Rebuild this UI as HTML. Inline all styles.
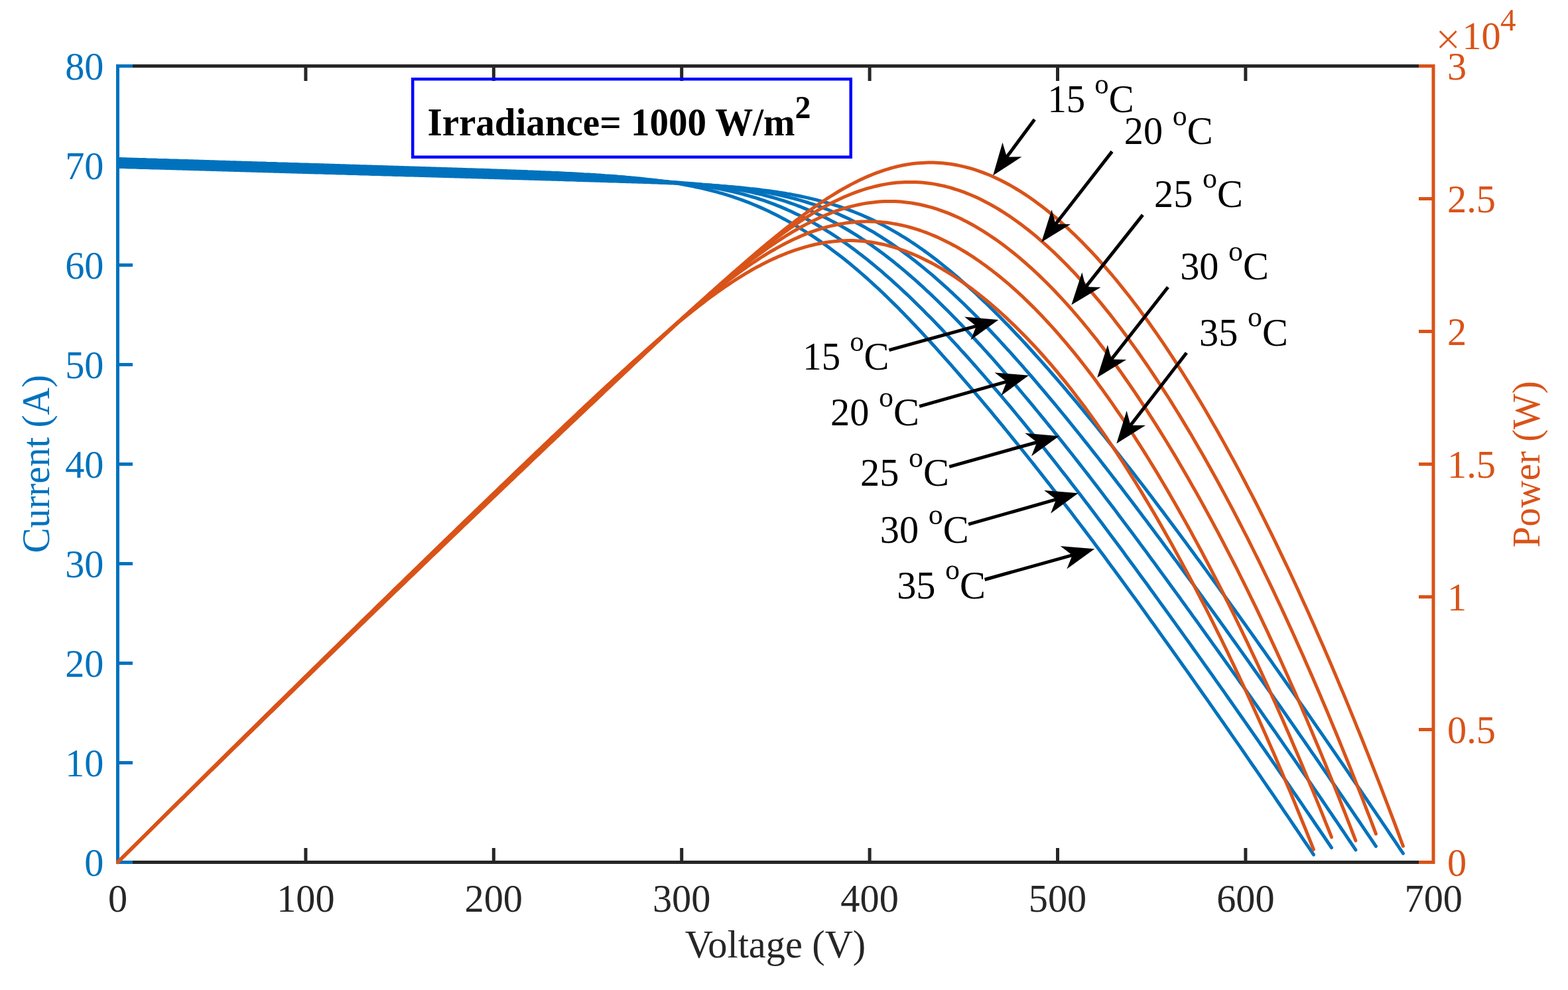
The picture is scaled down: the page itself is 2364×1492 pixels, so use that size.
<!DOCTYPE html><html><head><meta charset="utf-8"><style>html,body{margin:0;padding:0;background:#fff;}svg{display:block;}text{font-family:"Liberation Serif","Times New Roman",serif;}</style></head><body>
<svg width="2364" height="1492" viewBox="0 0 2364 1492">
<rect width="2364" height="1492" fill="#fff"/>
<g stroke-width="5" fill="none" stroke-linecap="butt">
<line x1="177.5" y1="99.5" x2="2161.0" y2="99.5" stroke="#262626"/>
<line x1="177.5" y1="1299.5" x2="2161.0" y2="1299.5" stroke="#262626"/>
</g>
<g stroke="#262626" stroke-width="5">
<line x1="460.9" y1="1299.5" x2="460.9" y2="1278"/>
<line x1="460.9" y1="99.5" x2="460.9" y2="122"/>
<line x1="744.3" y1="1299.5" x2="744.3" y2="1278"/>
<line x1="744.3" y1="99.5" x2="744.3" y2="122"/>
<line x1="1027.7" y1="1299.5" x2="1027.7" y2="1278"/>
<line x1="1027.7" y1="99.5" x2="1027.7" y2="122"/>
<line x1="1311.1" y1="1299.5" x2="1311.1" y2="1278"/>
<line x1="1311.1" y1="99.5" x2="1311.1" y2="122"/>
<line x1="1594.5" y1="1299.5" x2="1594.5" y2="1278"/>
<line x1="1594.5" y1="99.5" x2="1594.5" y2="122"/>
<line x1="1877.9" y1="1299.5" x2="1877.9" y2="1278"/>
<line x1="1877.9" y1="99.5" x2="1877.9" y2="122"/>
</g>
<g stroke="#0072BD" stroke-width="5" stroke-linecap="square">
<line x1="177.5" y1="99.5" x2="177.5" y2="1299.5"/>
<line x1="177.5" y1="1299.5" x2="200" y2="1299.5" stroke-linecap="butt"/>
<line x1="177.5" y1="1149.5" x2="200" y2="1149.5" stroke-linecap="butt"/>
<line x1="177.5" y1="999.5" x2="200" y2="999.5" stroke-linecap="butt"/>
<line x1="177.5" y1="849.5" x2="200" y2="849.5" stroke-linecap="butt"/>
<line x1="177.5" y1="699.5" x2="200" y2="699.5" stroke-linecap="butt"/>
<line x1="177.5" y1="549.5" x2="200" y2="549.5" stroke-linecap="butt"/>
<line x1="177.5" y1="399.5" x2="200" y2="399.5" stroke-linecap="butt"/>
<line x1="177.5" y1="249.5" x2="200" y2="249.5" stroke-linecap="butt"/>
<line x1="177.5" y1="99.5" x2="200" y2="99.5" stroke-linecap="butt"/>
</g>
<g stroke="#D95319" stroke-width="5" stroke-linecap="square">
<line x1="2161.0" y1="99.5" x2="2161.0" y2="1299.5"/>
<line x1="2161.0" y1="1299.5" x2="2139" y2="1299.5" stroke-linecap="butt"/>
<line x1="2161.0" y1="1099.5" x2="2139" y2="1099.5" stroke-linecap="butt"/>
<line x1="2161.0" y1="899.5" x2="2139" y2="899.5" stroke-linecap="butt"/>
<line x1="2161.0" y1="699.5" x2="2139" y2="699.5" stroke-linecap="butt"/>
<line x1="2161.0" y1="499.5" x2="2139" y2="499.5" stroke-linecap="butt"/>
<line x1="2161.0" y1="299.5" x2="2139" y2="299.5" stroke-linecap="butt"/>
<line x1="2161.0" y1="99.5" x2="2139" y2="99.5" stroke-linecap="butt"/>
</g>
<g fill="none" stroke-width="5" stroke-linejoin="round" stroke-linecap="round">
<polyline stroke="#0072BD" points="177.5,239.4 181.5,239.5 185.5,239.7 189.5,239.8 193.6,239.9 197.6,240.0 201.6,240.2 205.6,240.3 209.6,240.4 213.6,240.5 217.7,240.6 221.7,240.8 225.7,240.9 229.7,241.0 233.7,241.1 237.7,241.3 241.7,241.4 245.8,241.5 249.8,241.6 253.8,241.7 257.8,241.9 261.8,242.0 265.8,242.1 269.9,242.2 273.9,242.4 277.9,242.5 281.9,242.6 285.9,242.7 289.9,242.8 294.0,243.0 298.0,243.1 302.0,243.2 306.0,243.3 310.0,243.5 314.0,243.6 318.0,243.7 322.1,243.8 326.1,243.9 330.1,244.1 334.1,244.2 338.1,244.3 342.1,244.4 346.2,244.6 350.2,244.7 354.2,244.8 358.2,244.9 362.2,245.0 366.2,245.2 370.2,245.3 374.3,245.4 378.3,245.5 382.3,245.7 386.3,245.8 390.3,245.9 394.3,246.0 398.4,246.1 402.4,246.3 406.4,246.4 410.4,246.5 414.4,246.6 418.4,246.8 422.5,246.9 426.5,247.0 430.5,247.1 434.5,247.2 438.5,247.4 442.5,247.5 446.5,247.6 450.6,247.7 454.6,247.9 458.6,248.0 462.6,248.1 466.6,248.2 470.6,248.4 474.7,248.5 478.7,248.6 482.7,248.7 486.7,248.8 490.7,249.0 494.7,249.1 498.7,249.2 502.8,249.3 506.8,249.5 510.8,249.6 514.8,249.7 518.8,249.8 522.8,249.9 526.9,250.1 530.9,250.2 534.9,250.3 538.9,250.4 542.9,250.6 546.9,250.7 550.9,250.8 555.0,250.9 559.0,251.0 563.0,251.2 567.0,251.3 571.0,251.4 575.0,251.5 579.1,251.7 583.1,251.8 587.1,251.9 591.1,252.0 595.1,252.2 599.1,252.3 603.2,252.4 607.2,252.5 611.2,252.7 615.2,252.8 619.2,252.9 623.2,253.0 627.2,253.2 631.3,253.3 635.3,253.4 639.3,253.5 643.3,253.7 647.3,253.8 651.3,253.9 655.4,254.0 659.4,254.2 663.4,254.3 667.4,254.4 671.4,254.5 675.4,254.7 679.4,254.8 683.5,254.9 687.5,255.0 691.5,255.2 695.5,255.3 699.5,255.4 703.5,255.6 707.6,255.7 711.6,255.8 715.6,255.9 719.6,256.1 723.6,256.2 727.6,256.3 731.7,256.5 735.7,256.6 739.7,256.7 743.7,256.9 747.7,257.0 751.7,257.2 755.7,257.3 759.8,257.4 763.8,257.6 767.8,257.7 771.8,257.9 775.8,258.0 779.8,258.2 783.9,258.3 787.9,258.5 791.9,258.6 795.9,258.8 799.9,258.9 803.9,259.1 807.9,259.2 812.0,259.4 816.0,259.6 820.0,259.7 824.0,259.9 828.0,260.1 832.0,260.3 836.1,260.4 840.1,260.6 844.1,260.8 848.1,261.0 852.1,261.2 856.1,261.4 860.2,261.6 864.2,261.8 868.2,262.0 872.2,262.2 876.2,262.4 880.2,262.7 884.2,262.9 888.3,263.1 892.3,263.4 896.3,263.6 900.3,263.9 904.3,264.1 908.3,264.4 912.4,264.7 916.4,264.9 920.4,265.2 924.4,265.5 928.4,265.8 932.4,266.2 936.4,266.5 940.5,266.8 944.5,267.2 948.5,267.5 952.5,267.9 956.5,268.3 960.5,268.7 964.6,269.1 968.6,269.5 972.6,269.9 976.6,270.4 980.6,270.8 984.6,271.3 988.6,271.8 992.7,272.3 996.7,272.8 1000.7,273.4 1004.7,274.0 1008.7,274.5 1012.7,275.2 1016.8,275.8 1020.8,276.4 1024.8,277.1 1028.8,277.8 1032.8,278.5 1036.8,279.3 1040.9,280.1 1044.9,280.9 1048.9,281.7 1052.9,282.6 1056.9,283.4 1060.9,284.4 1064.9,285.3 1069.0,286.3 1073.0,287.3 1077.0,288.4 1081.0,289.4 1085.0,290.6 1089.0,291.7 1093.1,292.9 1097.1,294.1 1101.1,295.4 1105.1,296.7 1109.1,298.1 1113.1,299.5 1117.1,300.9 1121.2,302.4 1125.2,303.9 1129.2,305.4 1133.2,307.0 1137.2,308.7 1141.2,310.4 1145.3,312.1 1149.3,313.9 1153.3,315.7 1157.3,317.6 1161.3,319.5 1165.3,321.5 1169.4,323.5 1173.4,325.5 1177.4,327.6 1181.4,329.8 1185.4,331.9 1189.4,334.2 1193.4,336.4 1197.5,338.8 1201.5,341.1 1205.5,343.5 1209.5,346.0 1213.5,348.5 1217.5,351.0 1221.6,353.6 1225.6,356.2 1229.6,358.9 1233.6,361.6 1237.6,364.4 1241.6,367.2 1245.6,370.0 1249.7,372.9 1253.7,375.9 1257.7,378.9 1261.7,381.9 1265.7,385.0 1269.7,388.1 1273.8,391.3 1277.8,394.5 1281.8,397.8 1285.8,401.1 1289.8,404.5 1293.8,407.9 1297.8,411.3 1301.9,414.8 1305.9,418.4 1309.9,422.0 1313.9,425.6 1317.9,429.3 1321.9,433.0 1326.0,436.7 1330.0,440.5 1334.0,444.4 1338.0,448.2 1342.0,452.2 1346.0,456.1 1350.1,460.1 1354.1,464.1 1358.1,468.2 1362.1,472.3 1366.1,476.4 1370.1,480.5 1374.1,484.7 1378.2,489.0 1382.2,493.2 1386.2,497.5 1390.2,501.8 1394.2,506.1 1398.2,510.5 1402.3,514.8 1406.3,519.2 1410.3,523.7 1414.3,528.1 1418.3,532.6 1422.3,537.1 1426.3,541.6 1430.4,546.1 1434.4,550.7 1438.4,555.3 1442.4,559.9 1446.4,564.5 1450.4,569.1 1454.5,573.8 1458.5,578.5 1462.5,583.1 1466.5,587.8 1470.5,592.6 1474.5,597.3 1478.6,602.1 1482.6,606.8 1486.6,611.6 1490.6,616.4 1494.6,621.2 1498.6,626.1 1502.6,630.9 1506.7,635.8 1510.7,640.7 1514.7,645.6 1518.7,650.5 1522.7,655.4 1526.7,660.4 1530.8,665.3 1534.8,670.3 1538.8,675.3 1542.8,680.3 1546.8,685.3 1550.8,690.3 1554.8,695.3 1558.9,700.4 1562.9,705.5 1566.9,710.5 1570.9,715.6 1574.9,720.8 1578.9,725.9 1583.0,731.0 1587.0,736.2 1591.0,741.3 1595.0,746.5 1599.0,751.7 1603.0,756.9 1607.1,762.2 1611.1,767.4 1615.1,772.6 1619.1,777.9 1623.1,783.2 1627.1,788.5 1631.1,793.8 1635.2,799.1 1639.2,804.4 1643.2,809.7 1647.2,815.1 1651.2,820.5 1655.2,825.8 1659.3,831.2 1663.3,836.6 1667.3,842.0 1671.3,847.5 1675.3,852.9 1679.3,858.3 1683.3,863.8 1687.4,869.3 1691.4,874.8 1695.4,880.2 1699.4,885.7 1703.4,891.3 1707.4,896.8 1711.5,902.3 1715.5,907.8 1719.5,913.4 1723.5,918.9 1727.5,924.5 1731.5,930.1 1735.5,935.7 1739.6,941.3 1743.6,946.9 1747.6,952.5 1751.6,958.1 1755.6,963.7 1759.6,969.3 1763.7,974.9 1767.7,980.6 1771.7,986.2 1775.7,991.9 1779.7,997.5 1783.7,1003.2 1787.8,1008.9 1791.8,1014.5 1795.8,1020.2 1799.8,1025.9 1803.8,1031.6 1807.8,1037.3 1811.8,1043.0 1815.9,1048.7 1819.9,1054.4 1823.9,1060.1 1827.9,1065.9 1831.9,1071.6 1835.9,1077.3 1840.0,1083.1 1844.0,1088.8 1848.0,1094.6 1852.0,1100.3 1856.0,1106.1 1860.0,1111.9 1864.0,1117.6 1868.1,1123.4 1872.1,1129.2 1876.1,1135.0 1880.1,1140.8 1884.1,1146.6 1888.1,1152.5 1892.2,1158.3 1896.2,1164.1 1900.2,1169.9 1904.2,1175.8 1908.2,1181.6 1912.2,1187.5 1916.3,1193.4 1920.3,1199.2 1924.3,1205.1 1928.3,1211.0 1932.3,1216.9 1936.3,1222.8 1940.3,1228.7 1944.4,1234.6 1948.4,1240.6 1952.4,1246.5 1956.4,1252.4 1960.4,1258.4 1964.4,1264.3 1968.5,1270.3 1972.5,1276.2 1976.5,1282.2 1980.5,1288.2"/>
<polyline stroke="#0072BD" points="177.5,242.4 181.6,242.6 185.7,242.7 189.7,242.8 193.8,242.9 197.9,243.0 202.0,243.2 206.0,243.3 210.1,243.4 214.2,243.5 218.3,243.7 222.3,243.8 226.4,243.9 230.5,244.0 234.6,244.1 238.6,244.3 242.7,244.4 246.8,244.5 250.9,244.6 254.9,244.7 259.0,244.9 263.1,245.0 267.2,245.1 271.2,245.2 275.3,245.4 279.4,245.5 283.5,245.6 287.5,245.7 291.6,245.8 295.7,246.0 299.8,246.1 303.8,246.2 307.9,246.3 312.0,246.5 316.1,246.6 320.2,246.7 324.2,246.8 328.3,246.9 332.4,247.1 336.5,247.2 340.5,247.3 344.6,247.4 348.7,247.6 352.8,247.7 356.8,247.8 360.9,247.9 365.0,248.0 369.1,248.2 373.1,248.3 377.2,248.4 381.3,248.5 385.4,248.6 389.4,248.8 393.5,248.9 397.6,249.0 401.7,249.1 405.7,249.3 409.8,249.4 413.9,249.5 418.0,249.6 422.0,249.7 426.1,249.9 430.2,250.0 434.3,250.1 438.3,250.2 442.4,250.4 446.5,250.5 450.6,250.6 454.6,250.7 458.7,250.8 462.8,251.0 466.9,251.1 471.0,251.2 475.0,251.3 479.1,251.4 483.2,251.6 487.3,251.7 491.3,251.8 495.4,251.9 499.5,252.1 503.6,252.2 507.6,252.3 511.7,252.4 515.8,252.5 519.9,252.7 523.9,252.8 528.0,252.9 532.1,253.0 536.2,253.2 540.2,253.3 544.3,253.4 548.4,253.5 552.5,253.6 556.5,253.8 560.6,253.9 564.7,254.0 568.8,254.1 572.8,254.3 576.9,254.4 581.0,254.5 585.1,254.6 589.1,254.7 593.2,254.9 597.3,255.0 601.4,255.1 605.5,255.2 609.5,255.3 613.6,255.5 617.7,255.6 621.8,255.7 625.8,255.8 629.9,256.0 634.0,256.1 638.1,256.2 642.1,256.3 646.2,256.4 650.3,256.6 654.4,256.7 658.4,256.8 662.5,256.9 666.6,257.1 670.7,257.2 674.7,257.3 678.8,257.4 682.9,257.5 687.0,257.7 691.0,257.8 695.1,257.9 699.2,258.0 703.3,258.2 707.3,258.3 711.4,258.4 715.5,258.5 719.6,258.7 723.6,258.8 727.7,258.9 731.8,259.1 735.9,259.2 739.9,259.3 744.0,259.5 748.1,259.6 752.2,259.7 756.3,259.9 760.3,260.0 764.4,260.2 768.5,260.3 772.6,260.5 776.6,260.6 780.7,260.8 784.8,260.9 788.9,261.1 792.9,261.2 797.0,261.4 801.1,261.5 805.2,261.7 809.2,261.9 813.3,262.0 817.4,262.2 821.5,262.4 825.5,262.6 829.6,262.7 833.7,262.9 837.8,263.1 841.8,263.3 845.9,263.5 850.0,263.7 854.1,263.9 858.1,264.1 862.2,264.3 866.3,264.5 870.4,264.7 874.4,264.9 878.5,265.1 882.6,265.3 886.7,265.5 890.8,265.7 894.8,265.9 898.9,266.2 903.0,266.4 907.1,266.6 911.1,266.9 915.2,267.1 919.3,267.3 923.4,267.6 927.4,267.8 931.5,268.1 935.6,268.3 939.7,268.6 943.7,268.8 947.8,269.1 951.9,269.4 956.0,269.6 960.0,269.9 964.1,270.2 968.2,270.5 972.3,270.8 976.3,271.1 980.4,271.4 984.5,271.8 988.6,272.1 992.6,272.5 996.7,272.8 1000.8,273.2 1004.9,273.6 1008.9,274.0 1013.0,274.4 1017.1,274.8 1021.2,275.2 1025.3,275.7 1029.3,276.1 1033.4,276.6 1037.5,277.1 1041.6,277.7 1045.6,278.2 1049.7,278.8 1053.8,279.4 1057.9,280.0 1061.9,280.6 1066.0,281.2 1070.1,281.9 1074.2,282.6 1078.2,283.4 1082.3,284.1 1086.4,284.9 1090.5,285.7 1094.5,286.6 1098.6,287.5 1102.7,288.4 1106.8,289.3 1110.8,290.3 1114.9,291.3 1119.0,292.4 1123.1,293.5 1127.1,294.6 1131.2,295.8 1135.3,297.0 1139.4,298.2 1143.4,299.5 1147.5,300.8 1151.6,302.2 1155.7,303.6 1159.7,305.1 1163.8,306.6 1167.9,308.2 1172.0,309.8 1176.1,311.4 1180.1,313.1 1184.2,314.9 1188.3,316.7 1192.4,318.5 1196.4,320.4 1200.5,322.4 1204.6,324.3 1208.7,326.4 1212.7,328.5 1216.8,330.6 1220.9,332.8 1225.0,335.1 1229.0,337.4 1233.1,339.7 1237.2,342.1 1241.3,344.5 1245.3,347.1 1249.4,349.6 1253.5,352.2 1257.6,354.8 1261.6,357.5 1265.7,360.3 1269.8,363.1 1273.9,365.9 1277.9,368.8 1282.0,371.8 1286.1,374.8 1290.2,377.8 1294.2,380.9 1298.3,384.0 1302.4,387.2 1306.5,390.4 1310.6,393.7 1314.6,397.0 1318.7,400.4 1322.8,403.8 1326.9,407.2 1330.9,410.7 1335.0,414.3 1339.1,417.8 1343.2,421.4 1347.2,425.1 1351.3,428.8 1355.4,432.5 1359.5,436.3 1363.5,440.1 1367.6,443.9 1371.7,447.8 1375.8,451.8 1379.8,455.7 1383.9,459.7 1388.0,463.7 1392.1,467.8 1396.1,471.9 1400.2,476.0 1404.3,480.1 1408.4,484.3 1412.4,488.5 1416.5,492.8 1420.6,497.1 1424.7,501.4 1428.7,505.7 1432.8,510.1 1436.9,514.4 1441.0,518.9 1445.1,523.3 1449.1,527.8 1453.2,532.3 1457.3,536.8 1461.4,541.3 1465.4,545.9 1469.5,550.5 1473.6,555.1 1477.7,559.8 1481.7,564.4 1485.8,569.1 1489.9,573.8 1494.0,578.5 1498.0,583.3 1502.1,588.1 1506.2,592.9 1510.3,597.7 1514.3,602.5 1518.4,607.4 1522.5,612.2 1526.6,617.1 1530.6,622.0 1534.7,627.0 1538.8,631.9 1542.9,636.9 1546.9,641.9 1551.0,646.9 1555.1,651.9 1559.2,657.0 1563.2,662.0 1567.3,667.1 1571.4,672.2 1575.5,677.3 1579.5,682.5 1583.6,687.6 1587.7,692.8 1591.8,698.0 1595.9,703.2 1599.9,708.4 1604.0,713.6 1608.1,718.8 1612.2,724.1 1616.2,729.4 1620.3,734.7 1624.4,740.0 1628.5,745.3 1632.5,750.6 1636.6,756.0 1640.7,761.3 1644.8,766.7 1648.8,772.1 1652.9,777.5 1657.0,782.9 1661.1,788.3 1665.1,793.8 1669.2,799.2 1673.3,804.7 1677.4,810.2 1681.4,815.6 1685.5,821.1 1689.6,826.6 1693.7,832.1 1697.7,837.7 1701.8,843.2 1705.9,848.7 1710.0,854.3 1714.0,859.8 1718.1,865.4 1722.2,871.0 1726.3,876.5 1730.4,882.1 1734.4,887.7 1738.5,893.3 1742.6,898.9 1746.7,904.6 1750.7,910.2 1754.8,915.8 1758.9,921.4 1763.0,927.1 1767.0,932.7 1771.1,938.4 1775.2,944.1 1779.3,949.7 1783.3,955.4 1787.4,961.1 1791.5,966.8 1795.6,972.5 1799.6,978.2 1803.7,983.9 1807.8,989.6 1811.9,995.4 1815.9,1001.1 1820.0,1006.8 1824.1,1012.6 1828.2,1018.3 1832.2,1024.1 1836.3,1029.9 1840.4,1035.6 1844.5,1041.4 1848.5,1047.2 1852.6,1053.0 1856.7,1058.8 1860.8,1064.6 1864.8,1070.4 1868.9,1076.2 1873.0,1082.0 1877.1,1087.9 1881.2,1093.7 1885.2,1099.5 1889.3,1105.4 1893.4,1111.2 1897.5,1117.1 1901.5,1123.0 1905.6,1128.8 1909.7,1134.7 1913.8,1140.6 1917.8,1146.5 1921.9,1152.4 1926.0,1158.3 1930.1,1164.2 1934.1,1170.1 1938.2,1176.0 1942.3,1181.9 1946.4,1187.9 1950.4,1193.8 1954.5,1199.7 1958.6,1205.7 1962.7,1211.6 1966.7,1217.6 1970.8,1223.6 1974.9,1229.5 1979.0,1235.5 1983.0,1241.5 1987.1,1247.5 1991.2,1253.5 1995.3,1259.5 1999.3,1265.5 2003.4,1271.5 2007.5,1277.5"/>
<polyline stroke="#0072BD" points="177.5,245.4 181.7,245.6 185.8,245.7 190.0,245.8 194.1,245.9 198.3,246.1 202.4,246.2 206.6,246.3 210.8,246.4 214.9,246.5 219.1,246.7 223.2,246.8 227.4,246.9 231.5,247.0 235.7,247.2 239.9,247.3 244.0,247.4 248.2,247.5 252.3,247.6 256.5,247.8 260.6,247.9 264.8,248.0 268.9,248.1 273.1,248.2 277.3,248.4 281.4,248.5 285.6,248.6 289.7,248.7 293.9,248.9 298.0,249.0 302.2,249.1 306.4,249.2 310.5,249.3 314.7,249.5 318.8,249.6 323.0,249.7 327.1,249.8 331.3,249.9 335.5,250.1 339.6,250.2 343.8,250.3 347.9,250.4 352.1,250.6 356.2,250.7 360.4,250.8 364.6,250.9 368.7,251.0 372.9,251.2 377.0,251.3 381.2,251.4 385.3,251.5 389.5,251.7 393.7,251.8 397.8,251.9 402.0,252.0 406.1,252.1 410.3,252.3 414.4,252.4 418.6,252.5 422.8,252.6 426.9,252.7 431.1,252.9 435.2,253.0 439.4,253.1 443.5,253.2 447.7,253.4 451.8,253.5 456.0,253.6 460.2,253.7 464.3,253.8 468.5,254.0 472.6,254.1 476.8,254.2 480.9,254.3 485.1,254.5 489.3,254.6 493.4,254.7 497.6,254.8 501.7,254.9 505.9,255.1 510.0,255.2 514.2,255.3 518.4,255.4 522.5,255.5 526.7,255.7 530.8,255.8 535.0,255.9 539.1,256.0 543.3,256.2 547.5,256.3 551.6,256.4 555.8,256.5 559.9,256.6 564.1,256.8 568.2,256.9 572.4,257.0 576.6,257.1 580.7,257.2 584.9,257.4 589.0,257.5 593.2,257.6 597.3,257.7 601.5,257.9 605.6,258.0 609.8,258.1 614.0,258.2 618.1,258.3 622.3,258.5 626.4,258.6 630.6,258.7 634.7,258.8 638.9,259.0 643.1,259.1 647.2,259.2 651.4,259.3 655.5,259.4 659.7,259.6 663.8,259.7 668.0,259.8 672.2,259.9 676.3,260.0 680.5,260.2 684.6,260.3 688.8,260.4 692.9,260.5 697.1,260.7 701.3,260.8 705.4,260.9 709.6,261.0 713.7,261.1 717.9,261.3 722.0,261.4 726.2,261.5 730.4,261.7 734.5,261.8 738.7,261.9 742.8,262.0 747.0,262.2 751.1,262.3 755.3,262.4 759.5,262.6 763.6,262.7 767.8,262.9 771.9,263.0 776.1,263.1 780.2,263.3 784.4,263.4 788.5,263.6 792.7,263.7 796.9,263.9 801.0,264.0 805.2,264.2 809.3,264.4 813.5,264.5 817.6,264.7 821.8,264.9 826.0,265.0 830.1,265.2 834.3,265.4 838.4,265.6 842.6,265.8 846.7,265.9 850.9,266.1 855.1,266.3 859.2,266.5 863.4,266.7 867.5,266.9 871.7,267.1 875.8,267.3 880.0,267.5 884.2,267.7 888.3,267.9 892.5,268.0 896.6,268.2 900.8,268.4 904.9,268.6 909.1,268.8 913.3,269.0 917.4,269.2 921.6,269.5 925.7,269.7 929.9,269.9 934.0,270.1 938.2,270.3 942.3,270.5 946.5,270.7 950.7,270.9 954.8,271.1 959.0,271.3 963.1,271.5 967.3,271.7 971.4,272.0 975.6,272.2 979.8,272.4 983.9,272.7 988.1,272.9 992.2,273.1 996.4,273.4 1000.5,273.6 1004.7,273.9 1008.9,274.2 1013.0,274.4 1017.2,274.7 1021.3,275.0 1025.5,275.3 1029.6,275.7 1033.8,276.0 1038.0,276.3 1042.1,276.7 1046.3,277.1 1050.4,277.4 1054.6,277.8 1058.7,278.3 1062.9,278.7 1067.1,279.2 1071.2,279.6 1075.4,280.1 1079.5,280.7 1083.7,281.2 1087.8,281.8 1092.0,282.4 1096.2,283.0 1100.3,283.6 1104.5,284.3 1108.6,285.0 1112.8,285.7 1116.9,286.5 1121.1,287.2 1125.2,288.1 1129.4,288.9 1133.6,289.8 1137.7,290.7 1141.9,291.7 1146.0,292.6 1150.2,293.7 1154.3,294.7 1158.5,295.8 1162.7,297.0 1166.8,298.1 1171.0,299.4 1175.1,300.6 1179.3,301.9 1183.4,303.2 1187.6,304.6 1191.8,306.1 1195.9,307.5 1200.1,309.0 1204.2,310.6 1208.4,312.2 1212.5,313.9 1216.7,315.6 1220.9,317.3 1225.0,319.1 1229.2,321.0 1233.3,322.9 1237.5,324.8 1241.6,326.8 1245.8,328.8 1250.0,330.9 1254.1,333.1 1258.3,335.3 1262.4,337.5 1266.6,339.8 1270.7,342.2 1274.9,344.5 1279.1,347.0 1283.2,349.5 1287.4,352.1 1291.5,354.7 1295.7,357.3 1299.8,360.1 1304.0,362.8 1308.1,365.6 1312.3,368.5 1316.5,371.4 1320.6,374.4 1324.8,377.4 1328.9,380.5 1333.1,383.6 1337.2,386.8 1341.4,390.0 1345.6,393.3 1349.7,396.6 1353.9,400.0 1358.0,403.4 1362.2,406.9 1366.3,410.4 1370.5,414.0 1374.7,417.6 1378.8,421.2 1383.0,424.9 1387.1,428.7 1391.3,432.4 1395.4,436.3 1399.6,440.1 1403.8,444.0 1407.9,448.0 1412.1,452.0 1416.2,456.0 1420.4,460.1 1424.5,464.2 1428.7,468.3 1432.9,472.5 1437.0,476.7 1441.2,481.0 1445.3,485.2 1449.5,489.6 1453.6,493.9 1457.8,498.3 1461.9,502.7 1466.1,507.2 1470.3,511.7 1474.4,516.2 1478.6,520.7 1482.7,525.3 1486.9,529.9 1491.0,534.5 1495.2,539.2 1499.4,543.9 1503.5,548.6 1507.7,553.3 1511.8,558.1 1516.0,562.8 1520.1,567.6 1524.3,572.5 1528.5,577.3 1532.6,582.2 1536.8,587.1 1540.9,592.0 1545.1,597.0 1549.2,601.9 1553.4,606.9 1557.6,611.9 1561.7,617.0 1565.9,622.0 1570.0,627.1 1574.2,632.2 1578.3,637.3 1582.5,642.4 1586.7,647.5 1590.8,652.7 1595.0,657.9 1599.1,663.0 1603.3,668.3 1607.4,673.5 1611.6,678.7 1615.8,684.0 1619.9,689.3 1624.1,694.6 1628.2,699.9 1632.4,705.2 1636.5,710.6 1640.7,715.9 1644.8,721.3 1649.0,726.7 1653.2,732.1 1657.3,737.5 1661.5,743.0 1665.6,748.4 1669.8,753.9 1673.9,759.3 1678.1,764.8 1682.3,770.3 1686.4,775.9 1690.6,781.4 1694.7,786.9 1698.9,792.5 1703.0,798.0 1707.2,803.6 1711.4,809.2 1715.5,814.8 1719.7,820.4 1723.8,826.0 1728.0,831.6 1732.1,837.3 1736.3,842.9 1740.5,848.6 1744.6,854.2 1748.8,859.9 1752.9,865.6 1757.1,871.3 1761.2,877.0 1765.4,882.7 1769.6,888.4 1773.7,894.1 1777.9,899.8 1782.0,905.6 1786.2,911.3 1790.3,917.1 1794.5,922.8 1798.6,928.6 1802.8,934.3 1807.0,940.1 1811.1,945.9 1815.3,951.7 1819.4,957.5 1823.6,963.3 1827.7,969.1 1831.9,974.9 1836.1,980.7 1840.2,986.5 1844.4,992.4 1848.5,998.2 1852.7,1004.0 1856.8,1009.9 1861.0,1015.8 1865.2,1021.6 1869.3,1027.5 1873.5,1033.4 1877.6,1039.3 1881.8,1045.1 1885.9,1051.0 1890.1,1056.9 1894.3,1062.9 1898.4,1068.8 1902.6,1074.7 1906.7,1080.6 1910.9,1086.6 1915.0,1092.5 1919.2,1098.5 1923.4,1104.4 1927.5,1110.4 1931.7,1116.4 1935.8,1122.4 1940.0,1128.4 1944.1,1134.4 1948.3,1140.4 1952.5,1146.4 1956.6,1152.4 1960.8,1158.5 1964.9,1164.5 1969.1,1170.6 1973.2,1176.6 1977.4,1182.7 1981.5,1188.8 1985.7,1194.8 1989.9,1200.9 1994.0,1207.0 1998.2,1213.1 2002.3,1219.3 2006.5,1225.4 2010.6,1231.5 2014.8,1237.7 2019.0,1243.8 2023.1,1250.0 2027.3,1256.1 2031.4,1262.3 2035.6,1268.5 2039.7,1274.7 2043.9,1280.9"/>
<polyline stroke="#0072BD" points="177.5,248.5 181.7,248.6 185.9,248.7 190.2,248.8 194.4,248.9 198.6,249.1 202.8,249.2 207.1,249.3 211.3,249.4 215.5,249.6 219.7,249.7 224.0,249.8 228.2,249.9 232.4,250.0 236.6,250.2 240.9,250.3 245.1,250.4 249.3,250.5 253.5,250.7 257.8,250.8 262.0,250.9 266.2,251.0 270.4,251.1 274.7,251.3 278.9,251.4 283.1,251.5 287.3,251.6 291.6,251.8 295.8,251.9 300.0,252.0 304.2,252.1 308.5,252.2 312.7,252.4 316.9,252.5 321.1,252.6 325.4,252.7 329.6,252.9 333.8,253.0 338.0,253.1 342.3,253.2 346.5,253.3 350.7,253.5 354.9,253.6 359.2,253.7 363.4,253.8 367.6,254.0 371.8,254.1 376.1,254.2 380.3,254.3 384.5,254.5 388.7,254.6 393.0,254.7 397.2,254.8 401.4,254.9 405.6,255.1 409.9,255.2 414.1,255.3 418.3,255.4 422.5,255.6 426.8,255.7 431.0,255.8 435.2,255.9 439.4,256.0 443.7,256.2 447.9,256.3 452.1,256.4 456.3,256.5 460.6,256.7 464.8,256.8 469.0,256.9 473.2,257.0 477.5,257.1 481.7,257.3 485.9,257.4 490.1,257.5 494.4,257.6 498.6,257.8 502.8,257.9 507.0,258.0 511.3,258.1 515.5,258.2 519.7,258.4 523.9,258.5 528.2,258.6 532.4,258.7 536.6,258.9 540.8,259.0 545.1,259.1 549.3,259.2 553.5,259.3 557.7,259.5 561.9,259.6 566.2,259.7 570.4,259.8 574.6,260.0 578.8,260.1 583.1,260.2 587.3,260.3 591.5,260.4 595.7,260.6 600.0,260.7 604.2,260.8 608.4,260.9 612.6,261.1 616.9,261.2 621.1,261.3 625.3,261.4 629.5,261.5 633.8,261.7 638.0,261.8 642.2,261.9 646.4,262.0 650.7,262.2 654.9,262.3 659.1,262.4 663.3,262.5 667.6,262.6 671.8,262.8 676.0,262.9 680.2,263.0 684.5,263.1 688.7,263.3 692.9,263.4 697.1,263.5 701.4,263.6 705.6,263.7 709.8,263.9 714.0,264.0 718.3,264.1 722.5,264.2 726.7,264.4 730.9,264.5 735.2,264.6 739.4,264.7 743.6,264.8 747.8,265.0 752.1,265.1 756.3,265.2 760.5,265.4 764.7,265.5 769.0,265.6 773.2,265.7 777.4,265.9 781.6,266.0 785.9,266.1 790.1,266.3 794.3,266.4 798.5,266.5 802.8,266.7 807.0,266.8 811.2,267.0 815.4,267.1 819.7,267.3 823.9,267.4 828.1,267.6 832.3,267.7 836.6,267.9 840.8,268.0 845.0,268.2 849.2,268.4 853.5,268.5 857.7,268.7 861.9,268.8 866.1,269.0 870.4,269.2 874.6,269.3 878.8,269.5 883.0,269.7 887.3,269.8 891.5,270.0 895.7,270.2 899.9,270.4 904.2,270.5 908.4,270.7 912.6,270.9 916.8,271.1 921.1,271.2 925.3,271.4 929.5,271.6 933.7,271.8 937.9,271.9 942.2,272.1 946.4,272.3 950.6,272.5 954.8,272.6 959.1,272.8 963.3,273.0 967.5,273.2 971.7,273.4 976.0,273.6 980.2,273.7 984.4,273.9 988.6,274.1 992.9,274.3 997.1,274.5 1001.3,274.7 1005.5,274.9 1009.8,275.1 1014.0,275.4 1018.2,275.6 1022.4,275.8 1026.7,276.0 1030.9,276.3 1035.1,276.5 1039.3,276.8 1043.6,277.1 1047.8,277.3 1052.0,277.6 1056.2,277.9 1060.5,278.2 1064.7,278.6 1068.9,278.9 1073.1,279.2 1077.4,279.6 1081.6,280.0 1085.8,280.4 1090.0,280.8 1094.3,281.2 1098.5,281.7 1102.7,282.1 1106.9,282.6 1111.2,283.1 1115.4,283.6 1119.6,284.2 1123.8,284.8 1128.1,285.4 1132.3,286.0 1136.5,286.6 1140.7,287.3 1145.0,288.0 1149.2,288.7 1153.4,289.5 1157.6,290.3 1161.9,291.1 1166.1,292.0 1170.3,292.8 1174.5,293.8 1178.8,294.7 1183.0,295.7 1187.2,296.7 1191.4,297.8 1195.7,298.9 1199.9,300.0 1204.1,301.2 1208.3,302.4 1212.6,303.7 1216.8,305.0 1221.0,306.3 1225.2,307.7 1229.5,309.1 1233.7,310.6 1237.9,312.1 1242.1,313.7 1246.4,315.3 1250.6,317.0 1254.8,318.7 1259.0,320.5 1263.3,322.3 1267.5,324.2 1271.7,326.1 1275.9,328.1 1280.2,330.1 1284.4,332.2 1288.6,334.3 1292.8,336.5 1297.1,338.7 1301.3,341.0 1305.5,343.4 1309.7,345.8 1314.0,348.2 1318.2,350.7 1322.4,353.3 1326.6,355.9 1330.8,358.6 1335.1,361.3 1339.3,364.1 1343.5,366.9 1347.7,369.8 1352.0,372.8 1356.2,375.7 1360.4,378.8 1364.6,381.9 1368.9,385.1 1373.1,388.3 1377.3,391.5 1381.5,394.8 1385.8,398.2 1390.0,401.6 1394.2,405.1 1398.4,408.6 1402.7,412.1 1406.9,415.7 1411.1,419.4 1415.3,423.1 1419.6,426.8 1423.8,430.6 1428.0,434.4 1432.2,438.3 1436.5,442.2 1440.7,446.2 1444.9,450.2 1449.1,454.2 1453.4,458.3 1457.6,462.5 1461.8,466.6 1466.0,470.8 1470.3,475.1 1474.5,479.3 1478.7,483.7 1482.9,488.0 1487.2,492.4 1491.4,496.8 1495.6,501.3 1499.8,505.8 1504.1,510.3 1508.3,514.9 1512.5,519.5 1516.7,524.1 1521.0,528.7 1525.2,533.4 1529.4,538.1 1533.6,542.9 1537.9,547.6 1542.1,552.4 1546.3,557.3 1550.5,562.1 1554.8,567.0 1559.0,571.9 1563.2,576.8 1567.4,581.8 1571.7,586.8 1575.9,591.8 1580.1,596.8 1584.3,601.9 1588.6,606.9 1592.8,612.0 1597.0,617.1 1601.2,622.3 1605.5,627.4 1609.7,632.6 1613.9,637.8 1618.1,643.0 1622.4,648.3 1626.6,653.5 1630.8,658.8 1635.0,664.1 1639.3,669.4 1643.5,674.7 1647.7,680.1 1651.9,685.4 1656.2,690.8 1660.4,696.2 1664.6,701.6 1668.8,707.1 1673.1,712.5 1677.3,718.0 1681.5,723.4 1685.7,728.9 1690.0,734.4 1694.2,739.9 1698.4,745.5 1702.6,751.0 1706.8,756.6 1711.1,762.1 1715.3,767.7 1719.5,773.3 1723.7,778.9 1728.0,784.5 1732.2,790.2 1736.4,795.8 1740.6,801.5 1744.9,807.2 1749.1,812.8 1753.3,818.5 1757.5,824.2 1761.8,829.9 1766.0,835.7 1770.2,841.4 1774.4,847.1 1778.7,852.9 1782.9,858.7 1787.1,864.5 1791.3,870.2 1795.6,876.0 1799.8,881.8 1804.0,887.7 1808.2,893.5 1812.5,899.3 1816.7,905.2 1820.9,911.0 1825.1,916.9 1829.4,922.7 1833.6,928.6 1837.8,934.5 1842.0,940.4 1846.3,946.3 1850.5,952.2 1854.7,958.1 1858.9,964.0 1863.2,970.0 1867.4,975.9 1871.6,981.9 1875.8,987.8 1880.1,993.8 1884.3,999.7 1888.5,1005.7 1892.7,1011.7 1897.0,1017.7 1901.2,1023.7 1905.4,1029.7 1909.6,1035.7 1913.9,1041.7 1918.1,1047.7 1922.3,1053.8 1926.5,1059.8 1930.8,1065.8 1935.0,1071.9 1939.2,1077.9 1943.4,1084.0 1947.7,1090.1 1951.9,1096.2 1956.1,1102.2 1960.3,1108.3 1964.6,1114.4 1968.8,1120.5 1973.0,1126.6 1977.2,1132.8 1981.5,1138.9 1985.7,1145.0 1989.9,1151.2 1994.1,1157.3 1998.4,1163.5 2002.6,1169.6 2006.8,1175.8 2011.0,1182.0 2015.3,1188.2 2019.5,1194.3 2023.7,1200.5 2027.9,1206.7 2032.2,1213.0 2036.4,1219.2 2040.6,1225.4 2044.8,1231.6 2049.1,1237.9 2053.3,1244.1 2057.5,1250.4 2061.7,1256.6 2066.0,1262.9 2070.2,1269.2 2074.4,1275.4"/>
<polyline stroke="#0072BD" points="177.5,251.4 181.8,251.5 186.1,251.6 190.4,251.7 194.8,251.9 199.1,252.0 203.4,252.1 207.7,252.2 212.0,252.4 216.3,252.5 220.7,252.6 225.0,252.7 229.3,252.9 233.6,253.0 237.9,253.1 242.2,253.2 246.6,253.3 250.9,253.5 255.2,253.6 259.5,253.7 263.8,253.8 268.1,254.0 272.5,254.1 276.8,254.2 281.1,254.3 285.4,254.5 289.7,254.6 294.0,254.7 298.3,254.8 302.7,255.0 307.0,255.1 311.3,255.2 315.6,255.3 319.9,255.4 324.2,255.6 328.6,255.7 332.9,255.8 337.2,255.9 341.5,256.1 345.8,256.2 350.1,256.3 354.5,256.4 358.8,256.6 363.1,256.7 367.4,256.8 371.7,256.9 376.0,257.1 380.4,257.2 384.7,257.3 389.0,257.4 393.3,257.5 397.6,257.7 401.9,257.8 406.2,257.9 410.6,258.0 414.9,258.2 419.2,258.3 423.5,258.4 427.8,258.5 432.1,258.7 436.5,258.8 440.8,258.9 445.1,259.0 449.4,259.2 453.7,259.3 458.0,259.4 462.4,259.5 466.7,259.7 471.0,259.8 475.3,259.9 479.6,260.0 483.9,260.1 488.3,260.3 492.6,260.4 496.9,260.5 501.2,260.6 505.5,260.8 509.8,260.9 514.2,261.0 518.5,261.1 522.8,261.3 527.1,261.4 531.4,261.5 535.7,261.6 540.0,261.8 544.4,261.9 548.7,262.0 553.0,262.1 557.3,262.2 561.6,262.4 565.9,262.5 570.3,262.6 574.6,262.7 578.9,262.9 583.2,263.0 587.5,263.1 591.8,263.2 596.2,263.4 600.5,263.5 604.8,263.6 609.1,263.7 613.4,263.9 617.7,264.0 622.1,264.1 626.4,264.2 630.7,264.3 635.0,264.5 639.3,264.6 643.6,264.7 647.9,264.8 652.3,265.0 656.6,265.1 660.9,265.2 665.2,265.3 669.5,265.5 673.8,265.6 678.2,265.7 682.5,265.8 686.8,266.0 691.1,266.1 695.4,266.2 699.7,266.3 704.1,266.5 708.4,266.6 712.7,266.7 717.0,266.8 721.3,266.9 725.6,267.1 730.0,267.2 734.3,267.3 738.6,267.4 742.9,267.6 747.2,267.7 751.5,267.8 755.8,267.9 760.2,268.1 764.5,268.2 768.8,268.3 773.1,268.4 777.4,268.6 781.7,268.7 786.1,268.8 790.4,268.9 794.7,269.1 799.0,269.2 803.3,269.3 807.6,269.4 812.0,269.6 816.3,269.7 820.6,269.8 824.9,269.9 829.2,270.1 833.5,270.2 837.9,270.3 842.2,270.5 846.5,270.6 850.8,270.7 855.1,270.9 859.4,271.0 863.7,271.1 868.1,271.3 872.4,271.4 876.7,271.5 881.0,271.7 885.3,271.8 889.6,271.9 894.0,272.1 898.3,272.2 902.6,272.3 906.9,272.5 911.2,272.6 915.5,272.7 919.9,272.9 924.2,273.0 928.5,273.1 932.8,273.3 937.1,273.4 941.4,273.5 945.8,273.7 950.1,273.8 954.4,273.9 958.7,274.1 963.0,274.2 967.3,274.3 971.7,274.5 976.0,274.6 980.3,274.8 984.6,274.9 988.9,275.1 993.2,275.2 997.5,275.4 1001.9,275.5 1006.2,275.7 1010.5,275.9 1014.8,276.0 1019.1,276.2 1023.4,276.4 1027.8,276.6 1032.1,276.8 1036.4,277.0 1040.7,277.3 1045.0,277.5 1049.3,277.7 1053.7,278.0 1058.0,278.3 1062.3,278.5 1066.6,278.8 1070.9,279.1 1075.2,279.4 1079.6,279.7 1083.9,280.0 1088.2,280.4 1092.5,280.7 1096.8,281.1 1101.1,281.4 1105.4,281.8 1109.8,282.2 1114.1,282.6 1118.4,283.0 1122.7,283.4 1127.0,283.9 1131.3,284.4 1135.7,284.8 1140.0,285.3 1144.3,285.8 1148.6,286.4 1152.9,286.9 1157.2,287.5 1161.6,288.1 1165.9,288.7 1170.2,289.3 1174.5,290.0 1178.8,290.6 1183.1,291.3 1187.5,292.1 1191.8,292.8 1196.1,293.6 1200.4,294.5 1204.7,295.3 1209.0,296.2 1213.3,297.1 1217.7,298.1 1222.0,299.1 1226.3,300.1 1230.6,301.2 1234.9,302.3 1239.2,303.4 1243.6,304.6 1247.9,305.8 1252.2,307.1 1256.5,308.4 1260.8,309.8 1265.1,311.2 1269.5,312.7 1273.8,314.2 1278.1,315.7 1282.4,317.3 1286.7,319.0 1291.0,320.7 1295.4,322.5 1299.7,324.3 1304.0,326.2 1308.3,328.1 1312.6,330.1 1316.9,332.1 1321.2,334.2 1325.6,336.4 1329.9,338.6 1334.2,340.9 1338.5,343.2 1342.8,345.6 1347.1,348.1 1351.5,350.6 1355.8,353.1 1360.1,355.8 1364.4,358.4 1368.7,361.2 1373.0,364.0 1377.4,366.9 1381.7,369.8 1386.0,372.8 1390.3,375.8 1394.6,378.9 1398.9,382.0 1403.3,385.2 1407.6,388.5 1411.9,391.8 1416.2,395.2 1420.5,398.6 1424.8,402.1 1429.2,405.6 1433.5,409.2 1437.8,412.8 1442.1,416.5 1446.4,420.2 1450.7,424.0 1455.0,427.8 1459.4,431.7 1463.7,435.6 1468.0,439.5 1472.3,443.5 1476.6,447.6 1480.9,451.7 1485.3,455.8 1489.6,460.0 1493.9,464.2 1498.2,468.5 1502.5,472.8 1506.8,477.1 1511.2,481.5 1515.5,485.9 1519.8,490.3 1524.1,494.8 1528.4,499.4 1532.7,503.9 1537.1,508.5 1541.4,513.1 1545.7,517.8 1550.0,522.5 1554.3,527.2 1558.6,532.0 1562.9,536.8 1567.3,541.6 1571.6,546.4 1575.9,551.3 1580.2,556.2 1584.5,561.2 1588.8,566.1 1593.2,571.1 1597.5,576.1 1601.8,581.2 1606.1,586.2 1610.4,591.3 1614.7,596.4 1619.1,601.6 1623.4,606.7 1627.7,611.9 1632.0,617.1 1636.3,622.3 1640.6,627.6 1645.0,632.9 1649.3,638.2 1653.6,643.5 1657.9,648.8 1662.2,654.2 1666.5,659.5 1670.8,664.9 1675.2,670.4 1679.5,675.8 1683.8,681.2 1688.1,686.7 1692.4,692.2 1696.7,697.7 1701.1,703.2 1705.4,708.8 1709.7,714.3 1714.0,719.9 1718.3,725.5 1722.6,731.1 1727.0,736.8 1731.3,742.4 1735.6,748.1 1739.9,753.8 1744.2,759.5 1748.5,765.2 1752.9,770.9 1757.2,776.7 1761.5,782.4 1765.8,788.2 1770.1,794.0 1774.4,799.8 1778.7,805.6 1783.1,811.4 1787.4,817.2 1791.7,823.1 1796.0,829.0 1800.3,834.8 1804.6,840.7 1809.0,846.6 1813.3,852.5 1817.6,858.4 1821.9,864.4 1826.2,870.3 1830.5,876.3 1834.9,882.2 1839.2,888.2 1843.5,894.2 1847.8,900.2 1852.1,906.2 1856.4,912.2 1860.8,918.2 1865.1,924.2 1869.4,930.2 1873.7,936.3 1878.0,942.3 1882.3,948.4 1886.7,954.5 1891.0,960.5 1895.3,966.6 1899.6,972.7 1903.9,978.8 1908.2,984.9 1912.5,991.0 1916.9,997.1 1921.2,1003.3 1925.5,1009.4 1929.8,1015.5 1934.1,1021.7 1938.4,1027.8 1942.8,1034.0 1947.1,1040.2 1951.4,1046.4 1955.7,1052.6 1960.0,1058.8 1964.3,1065.0 1968.7,1071.2 1973.0,1077.4 1977.3,1083.6 1981.6,1089.8 1985.9,1096.1 1990.2,1102.3 1994.6,1108.6 1998.9,1114.8 2003.2,1121.1 2007.5,1127.4 2011.8,1133.7 2016.1,1139.9 2020.4,1146.2 2024.8,1152.5 2029.1,1158.8 2033.4,1165.1 2037.7,1171.5 2042.0,1177.8 2046.3,1184.1 2050.7,1190.4 2055.0,1196.8 2059.3,1203.1 2063.6,1209.5 2067.9,1215.8 2072.2,1222.2 2076.6,1228.6 2080.9,1234.9 2085.2,1241.3 2089.5,1247.7 2093.8,1254.1 2098.1,1260.5 2102.5,1266.9 2106.8,1273.3 2111.1,1279.8 2115.4,1286.2"/>
<polyline stroke="#D95319" points="177.5,1299.5 181.5,1295.5 185.5,1291.5 189.5,1287.5 193.6,1283.5 197.6,1279.5 201.6,1275.5 205.6,1271.5 209.6,1267.5 213.6,1263.5 217.7,1259.5 221.7,1255.5 225.7,1251.5 229.7,1247.5 233.7,1243.5 237.7,1239.5 241.7,1235.5 245.8,1231.5 249.8,1227.6 253.8,1223.6 257.8,1219.6 261.8,1215.6 265.8,1211.6 269.9,1207.6 273.9,1203.6 277.9,1199.7 281.9,1195.7 285.9,1191.7 289.9,1187.7 294.0,1183.7 298.0,1179.8 302.0,1175.8 306.0,1171.8 310.0,1167.8 314.0,1163.8 318.0,1159.9 322.1,1155.9 326.1,1151.9 330.1,1148.0 334.1,1144.0 338.1,1140.0 342.1,1136.1 346.2,1132.1 350.2,1128.1 354.2,1124.2 358.2,1120.2 362.2,1116.2 366.2,1112.3 370.2,1108.3 374.3,1104.3 378.3,1100.4 382.3,1096.4 386.3,1092.5 390.3,1088.5 394.3,1084.6 398.4,1080.6 402.4,1076.6 406.4,1072.7 410.4,1068.7 414.4,1064.8 418.4,1060.8 422.5,1056.9 426.5,1052.9 430.5,1049.0 434.5,1045.0 438.5,1041.1 442.5,1037.2 446.5,1033.2 450.6,1029.3 454.6,1025.3 458.6,1021.4 462.6,1017.4 466.6,1013.5 470.6,1009.6 474.7,1005.6 478.7,1001.7 482.7,997.8 486.7,993.8 490.7,989.9 494.7,986.0 498.7,982.0 502.8,978.1 506.8,974.2 510.8,970.2 514.8,966.3 518.8,962.4 522.8,958.4 526.9,954.5 530.9,950.6 534.9,946.7 538.9,942.7 542.9,938.8 546.9,934.9 550.9,931.0 555.0,927.1 559.0,923.2 563.0,919.2 567.0,915.3 571.0,911.4 575.0,907.5 579.1,903.6 583.1,899.7 587.1,895.8 591.1,891.8 595.1,887.9 599.1,884.0 603.2,880.1 607.2,876.2 611.2,872.3 615.2,868.4 619.2,864.5 623.2,860.6 627.2,856.7 631.3,852.8 635.3,848.9 639.3,845.0 643.3,841.1 647.3,837.2 651.3,833.3 655.4,829.4 659.4,825.5 663.4,821.6 667.4,817.7 671.4,813.8 675.4,810.0 679.4,806.1 683.5,802.2 687.5,798.3 691.5,794.4 695.5,790.5 699.5,786.6 703.5,782.8 707.6,778.9 711.6,775.0 715.6,771.1 719.6,767.3 723.6,763.4 727.6,759.5 731.7,755.6 735.7,751.8 739.7,747.9 743.7,744.0 747.7,740.2 751.7,736.3 755.7,732.4 759.8,728.6 763.8,724.7 767.8,720.9 771.8,717.0 775.8,713.1 779.8,709.3 783.9,705.4 787.9,701.6 791.9,697.8 795.9,693.9 799.9,690.1 803.9,686.2 807.9,682.4 812.0,678.6 816.0,674.7 820.0,670.9 824.0,667.1 828.0,663.3 832.0,659.4 836.1,655.6 840.1,651.8 844.1,648.0 848.1,644.2 852.1,640.4 856.1,636.6 860.2,632.8 864.2,629.0 868.2,625.2 872.2,621.4 876.2,617.7 880.2,613.9 884.2,610.1 888.3,606.4 892.3,602.6 896.3,598.9 900.3,595.1 904.3,591.4 908.3,587.7 912.4,583.9 916.4,580.2 920.4,576.5 924.4,572.8 928.4,569.1 932.4,565.5 936.4,561.8 940.5,558.1 944.5,554.5 948.5,550.8 952.5,547.2 956.5,543.6 960.5,540.0 964.6,536.4 968.6,532.8 972.6,529.2 976.6,525.7 980.6,522.1 984.6,518.6 988.6,515.1 992.7,511.6 996.7,508.1 1000.7,504.7 1004.7,501.3 1008.7,497.8 1012.7,494.4 1016.8,491.1 1020.8,487.7 1024.8,484.4 1028.8,481.1 1032.8,477.8 1036.8,474.6 1040.9,471.3 1044.9,468.1 1048.9,465.0 1052.9,461.8 1056.9,458.7 1060.9,455.7 1064.9,452.6 1069.0,449.6 1073.0,446.6 1077.0,443.7 1081.0,440.8 1085.0,437.9 1089.0,435.1 1093.1,432.3 1097.1,429.6 1101.1,426.9 1105.1,424.2 1109.1,421.6 1113.1,419.1 1117.1,416.6 1121.2,414.1 1125.2,411.7 1129.2,409.3 1133.2,407.0 1137.2,404.7 1141.2,402.5 1145.3,400.4 1149.3,398.3 1153.3,396.2 1157.3,394.2 1161.3,392.3 1165.3,390.4 1169.4,388.6 1173.4,386.8 1177.4,385.1 1181.4,383.5 1185.4,381.9 1189.4,380.3 1193.4,378.9 1197.5,377.4 1201.5,376.1 1205.5,374.8 1209.5,373.6 1213.5,372.4 1217.5,371.3 1221.6,370.2 1225.6,369.3 1229.6,368.3 1233.6,367.5 1237.6,366.7 1241.6,366.0 1245.6,365.3 1249.7,364.7 1253.7,364.2 1257.7,363.8 1261.7,363.4 1265.7,363.1 1269.7,362.8 1273.8,362.7 1277.8,362.6 1281.8,362.6 1285.8,362.6 1289.8,362.7 1293.8,362.9 1297.8,363.2 1301.9,363.5 1305.9,364.0 1309.9,364.5 1313.9,365.0 1317.9,365.7 1321.9,366.4 1326.0,367.2 1330.0,368.0 1334.0,368.9 1338.0,369.9 1342.0,371.0 1346.0,372.2 1350.1,373.4 1354.1,374.7 1358.1,376.0 1362.1,377.4 1366.1,378.9 1370.1,380.5 1374.1,382.1 1378.2,383.8 1382.2,385.5 1386.2,387.3 1390.2,389.2 1394.2,391.2 1398.2,393.2 1402.3,395.2 1406.3,397.4 1410.3,399.5 1414.3,401.8 1418.3,404.1 1422.3,406.5 1426.3,408.9 1430.4,411.4 1434.4,413.9 1438.4,416.5 1442.4,419.2 1446.4,421.9 1450.4,424.7 1454.5,427.5 1458.5,430.4 1462.5,433.3 1466.5,436.3 1470.5,439.4 1474.5,442.5 1478.6,445.7 1482.6,448.9 1486.6,452.2 1490.6,455.5 1494.6,458.9 1498.6,462.4 1502.6,465.9 1506.7,469.4 1510.7,473.0 1514.7,476.7 1518.7,480.4 1522.7,484.2 1526.7,488.1 1530.8,491.9 1534.8,495.9 1538.8,499.9 1542.8,504.0 1546.8,508.1 1550.8,512.3 1554.8,516.5 1558.9,520.8 1562.9,525.1 1566.9,529.5 1570.9,534.0 1574.9,538.5 1578.9,543.1 1583.0,547.7 1587.0,552.4 1591.0,557.1 1595.0,561.9 1599.0,566.8 1603.0,571.7 1607.1,576.7 1611.1,581.7 1615.1,586.8 1619.1,592.0 1623.1,597.2 1627.1,602.4 1631.1,607.7 1635.2,613.1 1639.2,618.6 1643.2,624.1 1647.2,629.6 1651.2,635.2 1655.2,640.9 1659.3,646.6 1663.3,652.4 1667.3,658.2 1671.3,664.1 1675.3,670.1 1679.3,676.1 1683.3,682.1 1687.4,688.3 1691.4,694.5 1695.4,700.7 1699.4,707.0 1703.4,713.3 1707.4,719.7 1711.5,726.2 1715.5,732.7 1719.5,739.3 1723.5,745.9 1727.5,752.6 1731.5,759.3 1735.5,766.1 1739.6,772.9 1743.6,779.8 1747.6,786.8 1751.6,793.8 1755.6,800.8 1759.6,807.9 1763.7,815.1 1767.7,822.3 1771.7,829.6 1775.7,836.9 1779.7,844.3 1783.7,851.7 1787.8,859.1 1791.8,866.7 1795.8,874.2 1799.8,881.9 1803.8,889.5 1807.8,897.3 1811.8,905.0 1815.9,912.9 1819.9,920.7 1823.9,928.7 1827.9,936.7 1831.9,944.7 1835.9,952.8 1840.0,960.9 1844.0,969.1 1848.0,977.4 1852.0,985.7 1856.0,994.0 1860.0,1002.4 1864.0,1010.9 1868.1,1019.4 1872.1,1028.0 1876.1,1036.6 1880.1,1045.3 1884.1,1054.0 1888.1,1062.8 1892.2,1071.7 1896.2,1080.5 1900.2,1089.5 1904.2,1098.5 1908.2,1107.6 1912.2,1116.7 1916.3,1125.9 1920.3,1135.1 1924.3,1144.4 1928.3,1153.7 1932.3,1163.1 1936.3,1172.6 1940.3,1182.1 1944.4,1191.6 1948.4,1201.3 1952.4,1210.9 1956.4,1220.7 1960.4,1230.5 1964.4,1240.3 1968.5,1250.2 1972.5,1260.2 1976.5,1270.2 1980.5,1280.3"/>
<polyline stroke="#D95319" points="177.5,1299.5 181.6,1295.4 185.7,1291.4 189.7,1287.3 193.8,1283.3 197.9,1279.2 202.0,1275.2 206.0,1271.1 210.1,1267.1 214.2,1263.1 218.3,1259.0 222.3,1255.0 226.4,1250.9 230.5,1246.9 234.6,1242.8 238.6,1238.8 242.7,1234.8 246.8,1230.7 250.9,1226.7 254.9,1222.6 259.0,1218.6 263.1,1214.6 267.2,1210.5 271.2,1206.5 275.3,1202.5 279.4,1198.4 283.5,1194.4 287.5,1190.4 291.6,1186.4 295.7,1182.3 299.8,1178.3 303.8,1174.3 307.9,1170.3 312.0,1166.2 316.1,1162.2 320.2,1158.2 324.2,1154.2 328.3,1150.1 332.4,1146.1 336.5,1142.1 340.5,1138.1 344.6,1134.1 348.7,1130.1 352.8,1126.0 356.8,1122.0 360.9,1118.0 365.0,1114.0 369.1,1110.0 373.1,1106.0 377.2,1102.0 381.3,1098.0 385.4,1094.0 389.4,1090.0 393.5,1086.0 397.6,1082.0 401.7,1077.9 405.7,1073.9 409.8,1069.9 413.9,1065.9 418.0,1061.9 422.0,1057.9 426.1,1053.9 430.2,1050.0 434.3,1046.0 438.3,1042.0 442.4,1038.0 446.5,1034.0 450.6,1030.0 454.6,1026.0 458.7,1022.0 462.8,1018.0 466.9,1014.0 471.0,1010.0 475.0,1006.1 479.1,1002.1 483.2,998.1 487.3,994.1 491.3,990.1 495.4,986.1 499.5,982.2 503.6,978.2 507.6,974.2 511.7,970.2 515.8,966.2 519.9,962.3 523.9,958.3 528.0,954.3 532.1,950.3 536.2,946.4 540.2,942.4 544.3,938.4 548.4,934.5 552.5,930.5 556.5,926.5 560.6,922.6 564.7,918.6 568.8,914.6 572.8,910.7 576.9,906.7 581.0,902.7 585.1,898.8 589.1,894.8 593.2,890.9 597.3,886.9 601.4,882.9 605.5,879.0 609.5,875.0 613.6,871.1 617.7,867.1 621.8,863.2 625.8,859.2 629.9,855.3 634.0,851.3 638.1,847.4 642.1,843.4 646.2,839.5 650.3,835.5 654.4,831.6 658.4,827.6 662.5,823.7 666.6,819.8 670.7,815.8 674.7,811.9 678.8,807.9 682.9,804.0 687.0,800.1 691.0,796.1 695.1,792.2 699.2,788.3 703.3,784.3 707.3,780.4 711.4,776.5 715.5,772.5 719.6,768.6 723.6,764.7 727.7,760.8 731.8,756.8 735.9,752.9 739.9,749.0 744.0,745.1 748.1,741.2 752.2,737.3 756.3,733.3 760.3,729.4 764.4,725.5 768.5,721.6 772.6,717.7 776.6,713.8 780.7,709.9 784.8,706.0 788.9,702.1 792.9,698.2 797.0,694.3 801.1,690.5 805.2,686.6 809.2,682.7 813.3,678.8 817.4,674.9 821.5,671.1 825.5,667.2 829.6,663.3 833.7,659.5 837.8,655.6 841.8,651.8 845.9,647.9 850.0,644.0 854.1,640.2 858.1,636.3 862.2,632.5 866.3,628.7 870.4,624.8 874.4,621.0 878.5,617.2 882.6,613.3 886.7,609.5 890.8,605.7 894.8,601.9 898.9,598.1 903.0,594.3 907.1,590.5 911.1,586.7 915.2,582.9 919.3,579.1 923.4,575.3 927.4,571.5 931.5,567.7 935.6,563.9 939.7,560.2 943.7,556.4 947.8,552.6 951.9,548.9 956.0,545.1 960.0,541.4 964.1,537.7 968.2,533.9 972.3,530.2 976.3,526.5 980.4,522.8 984.5,519.1 988.6,515.4 992.6,511.7 996.7,508.1 1000.8,504.4 1004.9,500.8 1008.9,497.2 1013.0,493.6 1017.1,490.0 1021.2,486.4 1025.3,482.8 1029.3,479.3 1033.4,475.7 1037.5,472.2 1041.6,468.7 1045.6,465.2 1049.7,461.8 1053.8,458.3 1057.9,454.9 1061.9,451.5 1066.0,448.2 1070.1,444.9 1074.2,441.5 1078.2,438.3 1082.3,435.0 1086.4,431.8 1090.5,428.6 1094.5,425.5 1098.6,422.3 1102.7,419.3 1106.8,416.2 1110.8,413.2 1114.9,410.2 1119.0,407.3 1123.1,404.4 1127.1,401.5 1131.2,398.7 1135.3,396.0 1139.4,393.3 1143.4,390.6 1147.5,388.0 1151.6,385.4 1155.7,382.9 1159.7,380.4 1163.8,378.0 1167.9,375.7 1172.0,373.4 1176.1,371.1 1180.1,368.9 1184.2,366.8 1188.3,364.7 1192.4,362.7 1196.4,360.8 1200.5,358.9 1204.6,357.1 1208.7,355.3 1212.7,353.6 1216.8,352.0 1220.9,350.4 1225.0,348.9 1229.0,347.5 1233.1,346.2 1237.2,344.9 1241.3,343.6 1245.3,342.5 1249.4,341.4 1253.5,340.4 1257.6,339.5 1261.6,338.6 1265.7,337.8 1269.8,337.1 1273.9,336.4 1277.9,335.8 1282.0,335.3 1286.1,334.9 1290.2,334.5 1294.2,334.2 1298.3,334.0 1302.4,333.9 1306.5,333.8 1310.6,333.8 1314.6,333.9 1318.7,334.0 1322.8,334.2 1326.9,334.5 1330.9,334.9 1335.0,335.3 1339.1,335.8 1343.2,336.4 1347.2,337.1 1351.3,337.8 1355.4,338.6 1359.5,339.5 1363.5,340.4 1367.6,341.4 1371.7,342.5 1375.8,343.7 1379.8,344.9 1383.9,346.2 1388.0,347.5 1392.1,349.0 1396.1,350.4 1400.2,352.0 1404.3,353.7 1408.4,355.4 1412.4,357.1 1416.5,359.0 1420.6,360.9 1424.7,362.9 1428.7,364.9 1432.8,367.0 1436.9,369.2 1441.0,371.4 1445.1,373.7 1449.1,376.1 1453.2,378.5 1457.3,381.0 1461.4,383.6 1465.4,386.2 1469.5,388.9 1473.6,391.7 1477.7,394.5 1481.7,397.4 1485.8,400.3 1489.9,403.4 1494.0,406.4 1498.0,409.6 1502.1,412.8 1506.2,416.0 1510.3,419.4 1514.3,422.7 1518.4,426.2 1522.5,429.7 1526.6,433.3 1530.6,436.9 1534.7,440.6 1538.8,444.4 1542.9,448.2 1546.9,452.1 1551.0,456.1 1555.1,460.1 1559.2,464.1 1563.2,468.3 1567.3,472.5 1571.4,476.7 1575.5,481.1 1579.5,485.5 1583.6,489.9 1587.7,494.4 1591.8,499.0 1595.9,503.6 1599.9,508.3 1604.0,513.1 1608.1,517.9 1612.2,522.8 1616.2,527.7 1620.3,532.7 1624.4,537.7 1628.5,542.9 1632.5,548.0 1636.6,553.3 1640.7,558.6 1644.8,563.9 1648.8,569.3 1652.9,574.8 1657.0,580.4 1661.1,585.9 1665.1,591.6 1669.2,597.3 1673.3,603.1 1677.4,608.9 1681.4,614.8 1685.5,620.7 1689.6,626.7 1693.7,632.7 1697.7,638.8 1701.8,645.0 1705.9,651.2 1710.0,657.5 1714.0,663.8 1718.1,670.2 1722.2,676.6 1726.3,683.1 1730.4,689.7 1734.4,696.2 1738.5,702.9 1742.6,709.6 1746.7,716.4 1750.7,723.2 1754.8,730.0 1758.9,737.0 1763.0,743.9 1767.0,751.0 1771.1,758.0 1775.2,765.2 1779.3,772.4 1783.3,779.6 1787.4,786.9 1791.5,794.2 1795.6,801.6 1799.6,809.1 1803.7,816.6 1807.8,824.2 1811.9,831.8 1815.9,839.5 1820.0,847.2 1824.1,855.0 1828.2,862.8 1832.2,870.7 1836.3,878.6 1840.4,886.6 1844.5,894.7 1848.5,902.8 1852.6,910.9 1856.7,919.2 1860.8,927.4 1864.8,935.8 1868.9,944.1 1873.0,952.6 1877.1,961.1 1881.2,969.6 1885.2,978.2 1889.3,986.8 1893.4,995.5 1897.5,1004.3 1901.5,1013.1 1905.6,1022.0 1909.7,1030.9 1913.8,1039.9 1917.8,1048.9 1921.9,1058.0 1926.0,1067.2 1930.1,1076.4 1934.1,1085.6 1938.2,1094.9 1942.3,1104.3 1946.4,1113.7 1950.4,1123.2 1954.5,1132.7 1958.6,1142.3 1962.7,1151.9 1966.7,1161.6 1970.8,1171.4 1974.9,1181.2 1979.0,1191.0 1983.0,1200.9 1987.1,1210.9 1991.2,1220.9 1995.3,1231.0 1999.3,1241.1 2003.4,1251.3 2007.5,1261.6"/>
<polyline stroke="#D95319" points="177.5,1299.5 181.7,1295.4 185.8,1291.3 190.0,1287.1 194.1,1283.0 198.3,1278.9 202.4,1274.8 206.6,1270.7 210.8,1266.5 214.9,1262.4 219.1,1258.3 223.2,1254.2 227.4,1250.1 231.5,1246.0 235.7,1241.9 239.9,1237.8 244.0,1233.7 248.2,1229.6 252.3,1225.4 256.5,1221.3 260.6,1217.2 264.8,1213.1 268.9,1209.0 273.1,1204.9 277.3,1200.8 281.4,1196.7 285.6,1192.6 289.7,1188.5 293.9,1184.4 298.0,1180.3 302.2,1176.2 306.4,1172.2 310.5,1168.1 314.7,1164.0 318.8,1159.9 323.0,1155.8 327.1,1151.7 331.3,1147.6 335.5,1143.5 339.6,1139.4 343.8,1135.4 347.9,1131.3 352.1,1127.2 356.2,1123.1 360.4,1119.0 364.6,1114.9 368.7,1110.9 372.9,1106.8 377.0,1102.7 381.2,1098.6 385.3,1094.6 389.5,1090.5 393.7,1086.4 397.8,1082.3 402.0,1078.3 406.1,1074.2 410.3,1070.1 414.4,1066.0 418.6,1062.0 422.8,1057.9 426.9,1053.8 431.1,1049.8 435.2,1045.7 439.4,1041.7 443.5,1037.6 447.7,1033.5 451.8,1029.5 456.0,1025.4 460.2,1021.4 464.3,1017.3 468.5,1013.2 472.6,1009.2 476.8,1005.1 480.9,1001.1 485.1,997.0 489.3,993.0 493.4,988.9 497.6,984.9 501.7,980.8 505.9,976.8 510.0,972.7 514.2,968.7 518.4,964.6 522.5,960.6 526.7,956.5 530.8,952.5 535.0,948.5 539.1,944.4 543.3,940.4 547.5,936.3 551.6,932.3 555.8,928.3 559.9,924.2 564.1,920.2 568.2,916.2 572.4,912.1 576.6,908.1 580.7,904.1 584.9,900.0 589.0,896.0 593.2,892.0 597.3,888.0 601.5,883.9 605.6,879.9 609.8,875.9 614.0,871.9 618.1,867.8 622.3,863.8 626.4,859.8 630.6,855.8 634.7,851.8 638.9,847.7 643.1,843.7 647.2,839.7 651.4,835.7 655.5,831.7 659.7,827.7 663.8,823.6 668.0,819.6 672.2,815.6 676.3,811.6 680.5,807.6 684.6,803.6 688.8,799.6 692.9,795.6 697.1,791.6 701.3,787.6 705.4,783.6 709.6,779.6 713.7,775.6 717.9,771.6 722.0,767.6 726.2,763.6 730.4,759.6 734.5,755.6 738.7,751.6 742.8,747.6 747.0,743.6 751.1,739.7 755.3,735.7 759.5,731.7 763.6,727.7 767.8,723.7 771.9,719.8 776.1,715.8 780.2,711.8 784.4,707.8 788.5,703.9 792.7,699.9 796.9,696.0 801.0,692.0 805.2,688.0 809.3,684.1 813.5,680.1 817.6,676.2 821.8,672.2 826.0,668.3 830.1,664.4 834.3,660.4 838.4,656.5 842.6,652.6 846.7,648.6 850.9,644.7 855.1,640.8 859.2,636.9 863.4,632.9 867.5,629.0 871.7,625.1 875.8,621.2 880.0,617.3 884.2,613.4 888.3,609.5 892.5,605.6 896.6,601.7 900.8,597.8 904.9,593.9 909.1,590.0 913.3,586.1 917.4,582.2 921.6,578.3 925.7,574.4 929.9,570.6 934.0,566.7 938.2,562.8 942.3,558.9 946.5,555.0 950.7,551.2 954.8,547.3 959.0,543.4 963.1,539.6 967.3,535.7 971.4,531.9 975.6,528.0 979.8,524.2 983.9,520.3 988.1,516.5 992.2,512.7 996.4,508.8 1000.5,505.0 1004.7,501.2 1008.9,497.4 1013.0,493.6 1017.2,489.8 1021.3,486.1 1025.5,482.3 1029.6,478.6 1033.8,474.8 1038.0,471.1 1042.1,467.4 1046.3,463.7 1050.4,460.0 1054.6,456.3 1058.7,452.7 1062.9,449.1 1067.1,445.5 1071.2,441.9 1075.4,438.3 1079.5,434.7 1083.7,431.2 1087.8,427.7 1092.0,424.3 1096.2,420.8 1100.3,417.4 1104.5,414.0 1108.6,410.6 1112.8,407.3 1116.9,404.0 1121.1,400.7 1125.2,397.5 1129.4,394.3 1133.6,391.1 1137.7,388.0 1141.9,384.9 1146.0,381.9 1150.2,378.9 1154.3,375.9 1158.5,373.0 1162.7,370.2 1166.8,367.3 1171.0,364.5 1175.1,361.8 1179.3,359.1 1183.4,356.5 1187.6,353.9 1191.8,351.4 1195.9,348.9 1200.1,346.5 1204.2,344.1 1208.4,341.8 1212.5,339.6 1216.7,337.4 1220.9,335.2 1225.0,333.2 1229.2,331.2 1233.3,329.2 1237.5,327.3 1241.6,325.5 1245.8,323.8 1250.0,322.1 1254.1,320.5 1258.3,318.9 1262.4,317.4 1266.6,316.0 1270.7,314.7 1274.9,313.4 1279.1,312.2 1283.2,311.1 1287.4,310.1 1291.5,309.1 1295.7,308.2 1299.8,307.4 1304.0,306.6 1308.1,306.0 1312.3,305.4 1316.5,304.9 1320.6,304.5 1324.8,304.1 1328.9,303.8 1333.1,303.6 1337.2,303.5 1341.4,303.5 1345.6,303.5 1349.7,303.6 1353.9,303.8 1358.0,304.1 1362.2,304.5 1366.3,304.9 1370.5,305.4 1374.7,306.0 1378.8,306.7 1383.0,307.5 1387.1,308.3 1391.3,309.2 1395.4,310.2 1399.6,311.3 1403.8,312.4 1407.9,313.6 1412.1,314.9 1416.2,316.3 1420.4,317.8 1424.5,319.3 1428.7,320.9 1432.9,322.6 1437.0,324.4 1441.2,326.2 1445.3,328.1 1449.5,330.1 1453.6,332.2 1457.8,334.3 1461.9,336.5 1466.1,338.8 1470.3,341.1 1474.4,343.6 1478.6,346.1 1482.7,348.6 1486.9,351.3 1491.0,354.0 1495.2,356.8 1499.4,359.6 1503.5,362.5 1507.7,365.5 1511.8,368.6 1516.0,371.7 1520.1,374.9 1524.3,378.2 1528.5,381.5 1532.6,384.9 1536.8,388.3 1540.9,391.9 1545.1,395.5 1549.2,399.1 1553.4,402.9 1557.6,406.6 1561.7,410.5 1565.9,414.4 1570.0,418.4 1574.2,422.5 1578.3,426.6 1582.5,430.8 1586.7,435.0 1590.8,439.3 1595.0,443.7 1599.1,448.1 1603.3,452.6 1607.4,457.2 1611.6,461.8 1615.8,466.5 1619.9,471.3 1624.1,476.1 1628.2,481.0 1632.4,485.9 1636.5,491.0 1640.7,496.0 1644.8,501.2 1649.0,506.4 1653.2,511.6 1657.3,517.0 1661.5,522.4 1665.6,527.8 1669.8,533.3 1673.9,538.9 1678.1,544.6 1682.3,550.2 1686.4,556.0 1690.6,561.8 1694.7,567.7 1698.9,573.7 1703.0,579.7 1707.2,585.7 1711.4,591.8 1715.5,598.0 1719.7,604.3 1723.8,610.6 1728.0,616.9 1732.1,623.3 1736.3,629.8 1740.5,636.3 1744.6,642.9 1748.8,649.6 1752.9,656.3 1757.1,663.0 1761.2,669.8 1765.4,676.7 1769.6,683.6 1773.7,690.6 1777.9,697.7 1782.0,704.8 1786.2,711.9 1790.3,719.1 1794.5,726.4 1798.6,733.7 1802.8,741.0 1807.0,748.5 1811.1,755.9 1815.3,763.5 1819.4,771.1 1823.6,778.7 1827.7,786.4 1831.9,794.2 1836.1,802.0 1840.2,809.9 1844.4,817.8 1848.5,825.8 1852.7,833.8 1856.8,841.9 1861.0,850.0 1865.2,858.2 1869.3,866.5 1873.5,874.8 1877.6,883.2 1881.8,891.6 1885.9,900.1 1890.1,908.6 1894.3,917.2 1898.4,925.9 1902.6,934.6 1906.7,943.4 1910.9,952.2 1915.0,961.1 1919.2,970.1 1923.4,979.1 1927.5,988.1 1931.7,997.3 1935.8,1006.5 1940.0,1015.7 1944.1,1025.0 1948.3,1034.4 1952.5,1043.8 1956.6,1053.3 1960.8,1062.8 1964.9,1072.5 1969.1,1082.1 1973.2,1091.9 1977.4,1101.7 1981.5,1111.5 1985.7,1121.4 1989.9,1131.4 1994.0,1141.4 1998.2,1151.5 2002.3,1161.7 2006.5,1171.9 2010.6,1182.2 2014.8,1192.6 2019.0,1203.0 2023.1,1213.5 2027.3,1224.0 2031.4,1234.6 2035.6,1245.3 2039.7,1256.0 2043.9,1266.8"/>
<polyline stroke="#D95319" points="177.5,1299.5 181.7,1295.3 185.9,1291.1 190.2,1287.0 194.4,1282.8 198.6,1278.6 202.8,1274.4 207.1,1270.3 211.3,1266.1 215.5,1261.9 219.7,1257.8 224.0,1253.6 228.2,1249.4 232.4,1245.3 236.6,1241.1 240.9,1236.9 245.1,1232.8 249.3,1228.6 253.5,1224.5 257.8,1220.3 262.0,1216.1 266.2,1212.0 270.4,1207.8 274.7,1203.7 278.9,1199.5 283.1,1195.3 287.3,1191.2 291.6,1187.0 295.8,1182.9 300.0,1178.7 304.2,1174.6 308.5,1170.4 312.7,1166.3 316.9,1162.1 321.1,1158.0 325.4,1153.9 329.6,1149.7 333.8,1145.6 338.0,1141.4 342.3,1137.3 346.5,1133.2 350.7,1129.0 354.9,1124.9 359.2,1120.7 363.4,1116.6 367.6,1112.5 371.8,1108.3 376.1,1104.2 380.3,1100.1 384.5,1095.9 388.7,1091.8 393.0,1087.7 397.2,1083.5 401.4,1079.4 405.6,1075.3 409.9,1071.2 414.1,1067.0 418.3,1062.9 422.5,1058.8 426.8,1054.7 431.0,1050.6 435.2,1046.4 439.4,1042.3 443.7,1038.2 447.9,1034.1 452.1,1030.0 456.3,1025.9 460.6,1021.7 464.8,1017.6 469.0,1013.5 473.2,1009.4 477.5,1005.3 481.7,1001.2 485.9,997.1 490.1,993.0 494.4,988.9 498.6,984.8 502.8,980.7 507.0,976.6 511.3,972.5 515.5,968.4 519.7,964.3 523.9,960.2 528.2,956.1 532.4,952.0 536.6,947.9 540.8,943.8 545.1,939.7 549.3,935.6 553.5,931.5 557.7,927.4 561.9,923.3 566.2,919.2 570.4,915.1 574.6,911.0 578.8,907.0 583.1,902.9 587.3,898.8 591.5,894.7 595.7,890.6 600.0,886.5 604.2,882.5 608.4,878.4 612.6,874.3 616.9,870.2 621.1,866.2 625.3,862.1 629.5,858.0 633.8,853.9 638.0,849.9 642.2,845.8 646.4,841.7 650.7,837.6 654.9,833.6 659.1,829.5 663.3,825.4 667.6,821.4 671.8,817.3 676.0,813.2 680.2,809.2 684.5,805.1 688.7,801.1 692.9,797.0 697.1,792.9 701.4,788.9 705.6,784.8 709.8,780.8 714.0,776.7 718.3,772.7 722.5,768.6 726.7,764.6 730.9,760.5 735.2,756.5 739.4,752.4 743.6,748.4 747.8,744.3 752.1,740.3 756.3,736.2 760.5,732.2 764.7,728.1 769.0,724.1 773.2,720.1 777.4,716.0 781.6,712.0 785.9,708.0 790.1,703.9 794.3,699.9 798.5,695.9 802.8,691.9 807.0,687.8 811.2,683.8 815.4,679.8 819.7,675.8 823.9,671.8 828.1,667.8 832.3,663.8 836.6,659.7 840.8,655.7 845.0,651.7 849.2,647.7 853.5,643.7 857.7,639.8 861.9,635.8 866.1,631.8 870.4,627.8 874.6,623.8 878.8,619.8 883.0,615.8 887.3,611.9 891.5,607.9 895.7,603.9 899.9,599.9 904.2,595.9 908.4,592.0 912.6,588.0 916.8,584.0 921.1,580.1 925.3,576.1 929.5,572.1 933.7,568.2 937.9,564.2 942.2,560.3 946.4,556.3 950.6,552.4 954.8,548.4 959.1,544.5 963.3,540.5 967.5,536.6 971.7,532.6 976.0,528.7 980.2,524.7 984.4,520.8 988.6,516.9 992.9,513.0 997.1,509.0 1001.3,505.1 1005.5,501.2 1009.8,497.3 1014.0,493.4 1018.2,489.5 1022.4,485.6 1026.7,481.7 1030.9,477.9 1035.1,474.0 1039.3,470.1 1043.6,466.3 1047.8,462.4 1052.0,458.6 1056.2,454.8 1060.5,451.0 1064.7,447.2 1068.9,443.4 1073.1,439.7 1077.4,435.9 1081.6,432.2 1085.8,428.5 1090.0,424.8 1094.3,421.1 1098.5,417.4 1102.7,413.8 1106.9,410.2 1111.2,406.6 1115.4,403.0 1119.6,399.4 1123.8,395.9 1128.1,392.4 1132.3,389.0 1136.5,385.5 1140.7,382.1 1145.0,378.7 1149.2,375.3 1153.4,372.0 1157.6,368.7 1161.9,365.5 1166.1,362.3 1170.3,359.1 1174.5,355.9 1178.8,352.8 1183.0,349.8 1187.2,346.8 1191.4,343.8 1195.7,340.9 1199.9,338.0 1204.1,335.1 1208.3,332.4 1212.6,329.6 1216.8,326.9 1221.0,324.3 1225.2,321.7 1229.5,319.2 1233.7,316.7 1237.9,314.3 1242.1,312.0 1246.4,309.7 1250.6,307.5 1254.8,305.3 1259.0,303.2 1263.3,301.2 1267.5,299.2 1271.7,297.3 1275.9,295.5 1280.2,293.7 1284.4,292.0 1288.6,290.4 1292.8,288.9 1297.1,287.4 1301.3,286.0 1305.5,284.7 1309.7,283.4 1314.0,282.3 1318.2,281.2 1322.4,280.2 1326.6,279.2 1330.8,278.4 1335.1,277.6 1339.3,276.9 1343.5,276.3 1347.7,275.8 1352.0,275.3 1356.2,275.0 1360.4,274.7 1364.6,274.5 1368.9,274.4 1373.1,274.4 1377.3,274.4 1381.5,274.6 1385.8,274.8 1390.0,275.1 1394.2,275.5 1398.4,276.0 1402.7,276.5 1406.9,277.1 1411.1,277.9 1415.3,278.7 1419.6,279.6 1423.8,280.5 1428.0,281.6 1432.2,282.7 1436.5,284.0 1440.7,285.3 1444.9,286.6 1449.1,288.1 1453.4,289.7 1457.6,291.3 1461.8,293.0 1466.0,294.8 1470.3,296.6 1474.5,298.6 1478.7,300.6 1482.9,302.7 1487.2,304.9 1491.4,307.1 1495.6,309.5 1499.8,311.9 1504.1,314.4 1508.3,317.0 1512.5,319.6 1516.7,322.4 1521.0,325.1 1525.2,328.0 1529.4,331.0 1533.6,334.0 1537.9,337.1 1542.1,340.3 1546.3,343.5 1550.5,346.8 1554.8,350.2 1559.0,353.7 1563.2,357.2 1567.4,360.8 1571.7,364.5 1575.9,368.3 1580.1,372.1 1584.3,376.0 1588.6,379.9 1592.8,384.0 1597.0,388.1 1601.2,392.3 1605.5,396.5 1609.7,400.8 1613.9,405.2 1618.1,409.6 1622.4,414.1 1626.6,418.7 1630.8,423.4 1635.0,428.1 1639.3,432.8 1643.5,437.7 1647.7,442.6 1651.9,447.6 1656.2,452.6 1660.4,457.7 1664.6,462.9 1668.8,468.1 1673.1,473.4 1677.3,478.8 1681.5,484.2 1685.7,489.7 1690.0,495.3 1694.2,500.9 1698.4,506.6 1702.6,512.4 1706.8,518.2 1711.1,524.1 1715.3,530.0 1719.5,536.0 1723.7,542.1 1728.0,548.2 1732.2,554.4 1736.4,560.7 1740.6,567.0 1744.9,573.4 1749.1,579.8 1753.3,586.3 1757.5,592.9 1761.8,599.5 1766.0,606.2 1770.2,613.0 1774.4,619.8 1778.7,626.6 1782.9,633.6 1787.1,640.6 1791.3,647.6 1795.6,654.8 1799.8,661.9 1804.0,669.2 1808.2,676.5 1812.5,683.8 1816.7,691.3 1820.9,698.7 1825.1,706.3 1829.4,713.9 1833.6,721.5 1837.8,729.3 1842.0,737.0 1846.3,744.9 1850.5,752.8 1854.7,760.7 1858.9,768.7 1863.2,776.8 1867.4,785.0 1871.6,793.1 1875.8,801.4 1880.1,809.7 1884.3,818.1 1888.5,826.5 1892.7,835.0 1897.0,843.5 1901.2,852.1 1905.4,860.8 1909.6,869.5 1913.9,878.3 1918.1,887.1 1922.3,896.0 1926.5,905.0 1930.8,914.0 1935.0,923.1 1939.2,932.2 1943.4,941.4 1947.7,950.7 1951.9,960.0 1956.1,969.4 1960.3,978.8 1964.6,988.3 1968.8,997.9 1973.0,1007.5 1977.2,1017.1 1981.5,1026.9 1985.7,1036.7 1989.9,1046.5 1994.1,1056.4 1998.4,1066.4 2002.6,1076.5 2006.8,1086.6 2011.0,1096.7 2015.3,1107.0 2019.5,1117.2 2023.7,1127.6 2027.9,1138.0 2032.2,1148.5 2036.4,1159.0 2040.6,1169.6 2044.8,1180.2 2049.1,1191.0 2053.3,1201.7 2057.5,1212.6 2061.7,1223.5 2066.0,1234.4 2070.2,1245.5 2074.4,1256.6"/>
<polyline stroke="#D95319" points="177.5,1299.5 181.8,1295.2 186.1,1291.0 190.4,1286.7 194.8,1282.5 199.1,1278.2 203.4,1274.0 207.7,1269.7 212.0,1265.5 216.3,1261.2 220.7,1257.0 225.0,1252.7 229.3,1248.5 233.6,1244.2 237.9,1240.0 242.2,1235.8 246.6,1231.5 250.9,1227.3 255.2,1223.0 259.5,1218.8 263.8,1214.6 268.1,1210.3 272.5,1206.1 276.8,1201.9 281.1,1197.6 285.4,1193.4 289.7,1189.2 294.0,1184.9 298.3,1180.7 302.7,1176.5 307.0,1172.3 311.3,1168.0 315.6,1163.8 319.9,1159.6 324.2,1155.4 328.6,1151.1 332.9,1146.9 337.2,1142.7 341.5,1138.5 345.8,1134.3 350.1,1130.0 354.5,1125.8 358.8,1121.6 363.1,1117.4 367.4,1113.2 371.7,1109.0 376.0,1104.8 380.4,1100.5 384.7,1096.3 389.0,1092.1 393.3,1087.9 397.6,1083.7 401.9,1079.5 406.2,1075.3 410.6,1071.1 414.9,1066.9 419.2,1062.7 423.5,1058.5 427.8,1054.3 432.1,1050.1 436.5,1045.9 440.8,1041.7 445.1,1037.5 449.4,1033.3 453.7,1029.1 458.0,1024.9 462.4,1020.7 466.7,1016.6 471.0,1012.4 475.3,1008.2 479.6,1004.0 483.9,999.8 488.3,995.6 492.6,991.4 496.9,987.3 501.2,983.1 505.5,978.9 509.8,974.7 514.2,970.5 518.5,966.4 522.8,962.2 527.1,958.0 531.4,953.8 535.7,949.7 540.0,945.5 544.4,941.3 548.7,937.1 553.0,933.0 557.3,928.8 561.6,924.6 565.9,920.5 570.3,916.3 574.6,912.1 578.9,908.0 583.2,903.8 587.5,899.6 591.8,895.5 596.2,891.3 600.5,887.2 604.8,883.0 609.1,878.9 613.4,874.7 617.7,870.5 622.1,866.4 626.4,862.2 630.7,858.1 635.0,853.9 639.3,849.8 643.6,845.6 647.9,841.5 652.3,837.3 656.6,833.2 660.9,829.1 665.2,824.9 669.5,820.8 673.8,816.6 678.2,812.5 682.5,808.3 686.8,804.2 691.1,800.1 695.4,795.9 699.7,791.8 704.1,787.7 708.4,783.5 712.7,779.4 717.0,775.3 721.3,771.1 725.6,767.0 730.0,762.9 734.3,758.7 738.6,754.6 742.9,750.5 747.2,746.4 751.5,742.2 755.8,738.1 760.2,734.0 764.5,729.9 768.8,725.8 773.1,721.6 777.4,717.5 781.7,713.4 786.1,709.3 790.4,705.2 794.7,701.1 799.0,697.0 803.3,692.8 807.6,688.7 812.0,684.6 816.3,680.5 820.6,676.4 824.9,672.3 829.2,668.2 833.5,664.1 837.9,660.0 842.2,655.9 846.5,651.8 850.8,647.7 855.1,643.6 859.4,639.5 863.7,635.4 868.1,631.4 872.4,627.3 876.7,623.2 881.0,619.1 885.3,615.0 889.6,610.9 894.0,606.8 898.3,602.8 902.6,598.7 906.9,594.6 911.2,590.5 915.5,586.4 919.9,582.4 924.2,578.3 928.5,574.2 932.8,570.1 937.1,566.1 941.4,562.0 945.8,557.9 950.1,553.9 954.4,549.8 958.7,545.7 963.0,541.7 967.3,537.6 971.7,533.5 976.0,529.5 980.3,525.4 984.6,521.4 988.9,517.3 993.2,513.3 997.5,509.2 1001.9,505.2 1006.2,501.2 1010.5,497.2 1014.8,493.1 1019.1,489.1 1023.4,485.1 1027.8,481.1 1032.1,477.2 1036.4,473.2 1040.7,469.2 1045.0,465.2 1049.3,461.3 1053.7,457.3 1058.0,453.4 1062.3,449.5 1066.6,445.6 1070.9,441.7 1075.2,437.8 1079.6,433.9 1083.9,430.0 1088.2,426.2 1092.5,422.3 1096.8,418.5 1101.1,414.7 1105.4,410.9 1109.8,407.1 1114.1,403.3 1118.4,399.6 1122.7,395.8 1127.0,392.1 1131.3,388.4 1135.7,384.7 1140.0,381.0 1144.3,377.4 1148.6,373.7 1152.9,370.1 1157.2,366.5 1161.6,363.0 1165.9,359.4 1170.2,355.9 1174.5,352.4 1178.8,349.0 1183.1,345.5 1187.5,342.1 1191.8,338.8 1196.1,335.4 1200.4,332.1 1204.7,328.9 1209.0,325.7 1213.3,322.5 1217.7,319.4 1222.0,316.3 1226.3,313.2 1230.6,310.2 1234.9,307.3 1239.2,304.4 1243.6,301.5 1247.9,298.7 1252.2,296.0 1256.5,293.3 1260.8,290.6 1265.1,288.0 1269.5,285.5 1273.8,283.1 1278.1,280.7 1282.4,278.4 1286.7,276.1 1291.0,273.9 1295.4,271.8 1299.7,269.8 1304.0,267.8 1308.3,265.9 1312.6,264.1 1316.9,262.3 1321.2,260.7 1325.6,259.1 1329.9,257.6 1334.2,256.1 1338.5,254.8 1342.8,253.5 1347.1,252.4 1351.5,251.3 1355.8,250.2 1360.1,249.3 1364.4,248.5 1368.7,247.8 1373.0,247.1 1377.4,246.5 1381.7,246.1 1386.0,245.7 1390.3,245.4 1394.6,245.2 1398.9,245.0 1403.3,245.0 1407.6,245.1 1411.9,245.2 1416.2,245.5 1420.5,245.8 1424.8,246.2 1429.2,246.7 1433.5,247.3 1437.8,248.0 1442.1,248.7 1446.4,249.6 1450.7,250.6 1455.0,251.6 1459.4,252.7 1463.7,253.9 1468.0,255.2 1472.3,256.6 1476.6,258.1 1480.9,259.6 1485.3,261.3 1489.6,263.0 1493.9,264.8 1498.2,266.7 1502.5,268.7 1506.8,270.8 1511.2,273.0 1515.5,275.2 1519.8,277.5 1524.1,279.9 1528.4,282.4 1532.7,285.0 1537.1,287.6 1541.4,290.3 1545.7,293.1 1550.0,296.0 1554.3,299.0 1558.6,302.0 1562.9,305.2 1567.3,308.4 1571.6,311.7 1575.9,315.0 1580.2,318.5 1584.5,322.0 1588.8,325.6 1593.2,329.2 1597.5,333.0 1601.8,336.8 1606.1,340.7 1610.4,344.6 1614.7,348.7 1619.1,352.8 1623.4,357.0 1627.7,361.2 1632.0,365.6 1636.3,370.0 1640.6,374.5 1645.0,379.0 1649.3,383.6 1653.6,388.3 1657.9,393.1 1662.2,397.9 1666.5,402.9 1670.8,407.8 1675.2,412.9 1679.5,418.0 1683.8,423.2 1688.1,428.5 1692.4,433.8 1696.7,439.2 1701.1,444.7 1705.4,450.3 1709.7,455.9 1714.0,461.6 1718.3,467.3 1722.6,473.2 1727.0,479.1 1731.3,485.0 1735.6,491.1 1739.9,497.2 1744.2,503.4 1748.5,509.6 1752.9,515.9 1757.2,522.3 1761.5,528.8 1765.8,535.3 1770.1,541.9 1774.4,548.6 1778.7,555.3 1783.1,562.1 1787.4,569.0 1791.7,575.9 1796.0,582.9 1800.3,589.9 1804.6,597.1 1809.0,604.3 1813.3,611.5 1817.6,618.8 1821.9,626.2 1826.2,633.7 1830.5,641.2 1834.9,648.8 1839.2,656.4 1843.5,664.1 1847.8,671.9 1852.1,679.7 1856.4,687.6 1860.8,695.5 1865.1,703.6 1869.4,711.6 1873.7,719.8 1878.0,728.0 1882.3,736.3 1886.7,744.6 1891.0,753.0 1895.3,761.4 1899.6,769.9 1903.9,778.5 1908.2,787.2 1912.5,795.9 1916.9,804.6 1921.2,813.5 1925.5,822.3 1929.8,831.3 1934.1,840.3 1938.4,849.4 1942.8,858.5 1947.1,867.7 1951.4,877.0 1955.7,886.3 1960.0,895.7 1964.3,905.2 1968.7,914.7 1973.0,924.3 1977.3,933.9 1981.6,943.6 1985.9,953.4 1990.2,963.2 1994.6,973.1 1998.9,983.0 2003.2,993.0 2007.5,1003.1 2011.8,1013.2 2016.1,1023.4 2020.4,1033.7 2024.8,1044.0 2029.1,1054.4 2033.4,1064.9 2037.7,1075.4 2042.0,1085.9 2046.3,1096.6 2050.7,1107.3 2055.0,1118.0 2059.3,1128.8 2063.6,1139.7 2067.9,1150.7 2072.2,1161.7 2076.6,1172.8 2080.9,1183.9 2085.2,1195.1 2089.5,1206.3 2093.8,1217.7 2098.1,1229.0 2102.5,1240.5 2106.8,1252.0 2111.1,1263.6 2115.4,1275.2"/>
</g>
<g font-size="58.3" fill="#262626" text-anchor="middle">
<text x="177.5" y="1373.5">0</text>
<text x="460.9" y="1373.5">100</text>
<text x="744.3" y="1373.5">200</text>
<text x="1027.7" y="1373.5">300</text>
<text x="1311.1" y="1373.5">400</text>
<text x="1594.5" y="1373.5">500</text>
<text x="1877.9" y="1373.5">600</text>
<text x="2161.3" y="1373.5">700</text>
</g>
<g font-size="58.3" fill="#0072BD" text-anchor="end">
<text x="156.5" y="1319.5">0</text>
<text x="156.5" y="1169.5">10</text>
<text x="156.5" y="1019.5">20</text>
<text x="156.5" y="869.5">30</text>
<text x="156.5" y="719.5">40</text>
<text x="156.5" y="569.5">50</text>
<text x="156.5" y="419.5">60</text>
<text x="156.5" y="269.5">70</text>
<text x="156.5" y="119.5">80</text>
</g>
<g font-size="58.3" fill="#D95319" text-anchor="start">
<text x="2182" y="1319.5">0</text>
<text x="2182" y="1119.5">0.5</text>
<text x="2182" y="919.5">1</text>
<text x="2182" y="719.5">1.5</text>
<text x="2182" y="519.5">2</text>
<text x="2182" y="319.5">2.5</text>
<text x="2182" y="119.5">3</text>
</g>
<text x="1169" y="1442.5" font-size="58.3" fill="#262626" text-anchor="middle">Voltage (V)</text>
<text transform="translate(74,699.3) rotate(-90) scale(0.982,1)" font-size="58.3" fill="#0072BD" text-anchor="middle">Current (A)</text>
<text transform="translate(2320.5,699.8) rotate(-90) scale(0.975,1)" font-size="58.3" fill="#D95319" text-anchor="middle">Power (W)</text>
<text x="2163.9" y="82.3" font-size="68" fill="#D95319" stroke="#fff" stroke-width="0.5">×</text>
<text x="2204.4" y="73.7" font-size="58.3" fill="#D95319">10</text>
<text x="2262" y="45.7" font-size="47" fill="#D95319">4</text>
<rect x="622.2" y="119.2" width="660.5" height="117.5" fill="none" stroke="#0000FF" stroke-width="4.5"/>
<text transform="translate(644.5,204) scale(0.978,1)" font-size="58.3" font-weight="bold" fill="#000">Irradiance= 1000 W/m<tspan font-size="49" dy="-26.3">2</tspan></text>
<g stroke="#000" stroke-width="5" fill="#000">
<line x1="1559.8" y1="180.1" x2="1516.7" y2="238.1"/><polygon stroke="none" points="1497.1,264.4 1511.5,214.8 1517.9,236.5 1540.4,236.3"/>
<line x1="1676.6" y1="228.4" x2="1590.3" y2="339.2"/><polygon stroke="none" points="1570.1,365.1 1585.6,315.9 1591.5,337.6 1614.0,338.0"/>
<line x1="1722.9" y1="323.9" x2="1635.7" y2="433.9"/><polygon stroke="none" points="1615.3,459.6 1631.3,410.5 1636.9,432.3 1659.5,432.9"/>
<line x1="1760.9" y1="432.8" x2="1674.4" y2="543.1"/><polygon stroke="none" points="1654.2,568.9 1669.9,519.7 1675.7,541.5 1698.2,541.9"/>
<line x1="1788.9" y1="531.7" x2="1703.4" y2="642.4"/><polygon stroke="none" points="1683.3,668.4 1698.6,619.1 1704.6,640.9 1727.1,641.1"/>
<line x1="1340.4" y1="527.7" x2="1473.8" y2="490.8"/><polygon stroke="none" points="1505.4,482.1 1463.5,512.3 1471.9,491.4 1454.0,477.6"/>
<line x1="1386.1" y1="612.3" x2="1519.5" y2="574.7"/><polygon stroke="none" points="1551.1,565.8 1509.4,596.3 1517.6,575.2 1499.6,561.6"/>
<line x1="1431.2" y1="703.3" x2="1565.2" y2="666.0"/><polygon stroke="none" points="1596.8,657.2 1555.0,687.5 1563.3,666.5 1545.3,652.8"/>
<line x1="1460.1" y1="790.2" x2="1594.1" y2="752.2"/><polygon stroke="none" points="1625.7,743.2 1584.1,773.7 1592.2,752.7 1574.2,739.1"/>
<line x1="1484.6" y1="873.5" x2="1618.6" y2="836.1"/><polygon stroke="none" points="1650.2,827.3 1608.4,857.6 1616.7,836.7 1598.7,823.0"/>
</g>
<g font-size="58.3" fill="#000">
<text transform="translate(1579.4,169.0) scale(0.973,1)">15 <tspan font-size="44" dy="-28.5">o</tspan><tspan dy="28.5">C</tspan></text>
<text transform="translate(1694.8,217.3) scale(1.0,1)">20 <tspan font-size="44" dy="-28.5">o</tspan><tspan dy="28.5">C</tspan></text>
<text transform="translate(1740.0,311.8) scale(1.0,1)">25 <tspan font-size="44" dy="-28.5">o</tspan><tspan dy="28.5">C</tspan></text>
<text transform="translate(1779.2,421.4) scale(1.0,1)">30 <tspan font-size="44" dy="-28.5">o</tspan><tspan dy="28.5">C</tspan></text>
<text transform="translate(1808.0,520.6) scale(1.0,1)">35 <tspan font-size="44" dy="-28.5">o</tspan><tspan dy="28.5">C</tspan></text>
<text transform="translate(1210.3,557.3) scale(0.973,1)">15 <tspan font-size="44" dy="-28.5">o</tspan><tspan dy="28.5">C</tspan></text>
<text transform="translate(1252.1,641.0) scale(1.0,1)">20 <tspan font-size="44" dy="-28.5">o</tspan><tspan dy="28.5">C</tspan></text>
<text transform="translate(1297.0,732.3) scale(1.0,1)">25 <tspan font-size="44" dy="-28.5">o</tspan><tspan dy="28.5">C</tspan></text>
<text transform="translate(1326.8,818.3) scale(1.0,1)">30 <tspan font-size="44" dy="-28.5">o</tspan><tspan dy="28.5">C</tspan></text>
<text transform="translate(1352.2,901.5) scale(1.0,1)">35 <tspan font-size="44" dy="-28.5">o</tspan><tspan dy="28.5">C</tspan></text>
</g>
</svg></body></html>
